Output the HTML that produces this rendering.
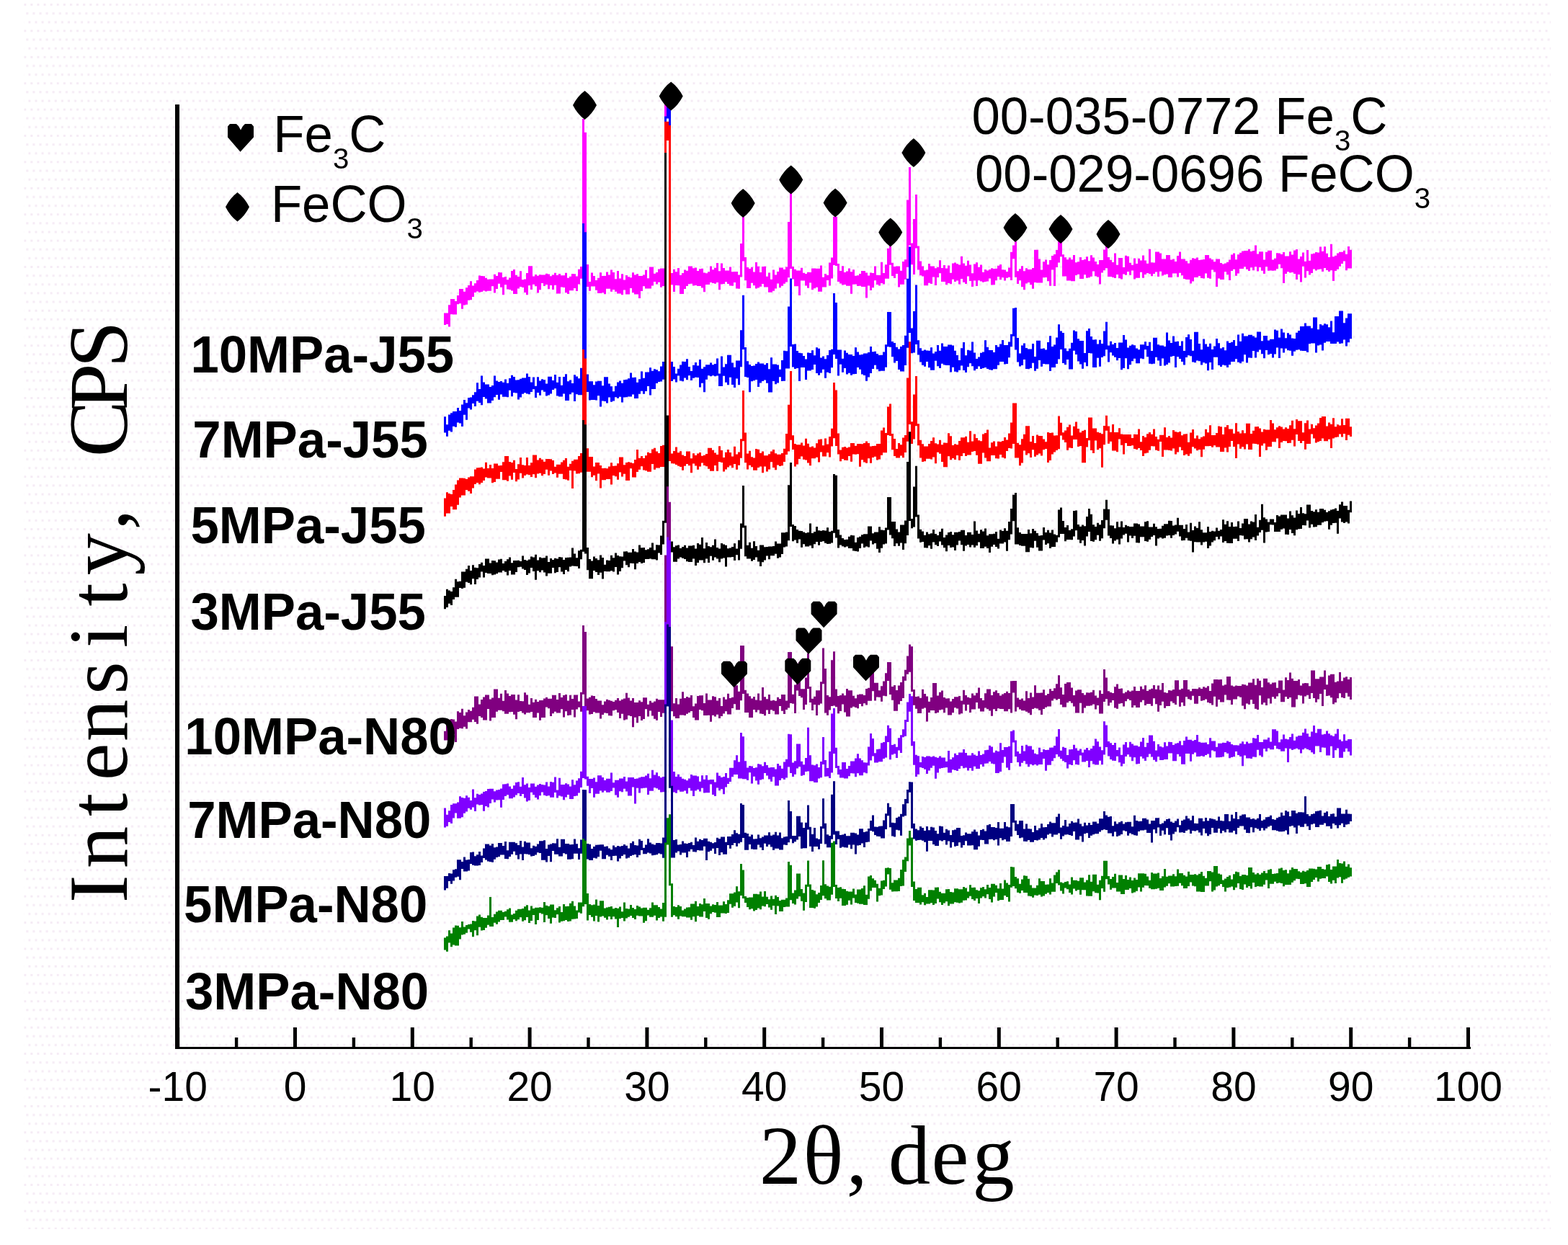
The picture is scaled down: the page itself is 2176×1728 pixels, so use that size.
<!DOCTYPE html>
<html><head><meta charset="utf-8"><title>XRD patterns</title>
<style>
html,body{margin:0;padding:0;background:#fff;overflow:hidden}
svg{display:block}
.tk{font-family:'Liberation Sans', Arial, sans-serif;font-size:57px}
.lb{font-family:'Liberation Sans', Arial, sans-serif;font-weight:bold;font-size:72px}
.lg{font-family:'Liberation Sans', Arial, sans-serif;font-size:72px}
.sb{font-size:41px}
.ti{font-family:'Liberation Serif', 'Times New Roman', serif;font-size:117px;white-space:pre}
</style></head><body>
<svg width="2176" height="1728" viewBox="0 0 2176 1728">
<rect width="2176" height="1728" fill="#fff"/>
<defs><pattern id="dt" x="33.28" y="4.98" width="9.1004" height="36.402" patternUnits="userSpaceOnUse">
<rect x="0" y="0" width="3.03" height="3.03" fill="#f5ebf5"/><rect x="3.0335" y="12.134" width="3.03" height="3.03" fill="#f5ebf5"/><rect x="6.067" y="24.268" width="3.03" height="3.03" fill="#f5ebf5"/>
</pattern></defs>
<rect x="33.28" y="4.98" width="2118.7" height="1701" fill="url(#dt)"/>
<g id="traces">
<path d="M617.5 434.6V450.9M620.5 434.6V450.1M623.5 423.2V453.4M626.5 414.9V436.3M629.5 414.9V436.4M632.5 418.1V436.4M635.5 409.9V422.3M638.5 401.1V421.2M641.5 401.1V428.7M644.5 404.7V423.6M647.5 399.2V422.7M650.5 395.9V416.7M653.5 390.3V416.2M656.5 396.6V412.1M659.5 393.3V406.1M662.5 389.1V404.6M665.5 382.6V405.7M668.5 383.1V405.0M671.5 383.3V403.6M674.5 385.8V404.5M677.5 387.8V403.7M680.5 387.6V403.7M683.5 387.6V397.3M686.5 380.8V406.4M689.5 383.1V400.9M692.5 378.0V393.8M695.5 378.3V398.7M698.5 384.9V409.2M701.5 383.9V395.2M704.5 388.3V401.4M707.5 385.4V402.1M710.5 376.1V403.6M713.5 373.9V408.0M716.5 381.7V408.0M719.5 384.0V400.6M722.5 376.2V397.9M725.5 388.2V398.9M728.5 387.4V406.1M731.5 379.1V409.3M734.5 369.3V396.2M737.5 369.3V402.1M740.5 383.6V394.7M743.5 380.9V397.2M746.5 382.7V406.4M749.5 381.3V402.2M752.5 381.4V393.0M755.5 381.4V397.1M758.5 379.7V395.0M761.5 380.4V401.3M764.5 383.3V395.9M767.5 381.5V402.0M770.5 378.7V395.7M773.5 382.1V407.6M776.5 379.9V407.6M779.5 382.2V398.5M782.5 382.2V399.1M785.5 378.8V406.2M788.5 385.8V408.1M791.5 383.7V403.3M794.5 380.0V403.3M797.5 380.3V399.9M800.5 383.6V403.9M803.5 373.7V394.4M806.5 370.1V386.8M809.5 165.0V375.8M812.5 183.7V369.9M815.5 366.9V398.1M818.5 391.1V403.7M821.5 378.5V397.5M824.5 383.0V397.5M827.5 389.1V402.8M830.5 385.8V407.1M833.5 378.3V406.9M836.5 382.9V406.2M839.5 383.0V408.2M842.5 377.4V400.7M845.5 381.5V400.7M848.5 374.5V404.7M851.5 377.9V401.9M854.5 387.2V404.7M857.5 376.0V407.5M860.5 386.6V407.5M863.5 380.2V409.3M866.5 388.4V402.6M869.5 382.0V408.6M872.5 384.2V408.6M875.5 385.3V400.0M878.5 378.2V406.2M881.5 381.5V408.5M884.5 380.3V408.5M887.5 382.9V414.0M890.5 382.9V404.0M893.5 381.6V397.3M896.5 374.8V400.6M899.5 386.3V400.6M902.5 370.6V400.6M905.5 370.6V396.5M908.5 379.8V391.0M911.5 378.0V394.5M914.5 373.5V391.8M917.5 372.4V398.7M920.5 372.4V396.9M923.5 137.0V387.5M926.5 137.0V161.2M929.5 140.0V385.4M932.5 379.1V395.2M935.5 373.8V405.1M938.5 377.3V396.0M941.5 371.9V396.2M944.5 381.8V408.1M947.5 379.0V408.1M950.5 374.6V401.0M953.5 375.8V397.1M956.5 369.5V394.3M959.5 369.5V393.8M962.5 372.2V396.5M965.5 371.4V396.0M968.5 376.0V397.1M971.5 373.2V397.1M974.5 372.8V399.6M977.5 378.4V405.3M980.5 379.3V395.1M983.5 377.2V395.1M986.5 369.4V392.1M989.5 374.2V393.1M992.5 371.7V393.8M995.5 365.0V392.1M998.5 376.3V402.3M1001.5 365.5V394.5M1004.5 372.0V394.0M1007.5 375.5V391.2M1010.5 375.6V394.1M1013.5 370.5V396.5M1016.5 377.2V396.7M1019.5 376.9V392.0M1022.5 376.9V400.6M1025.5 381.4V400.7M1028.5 338.1V384.4M1031.5 301.0V362.5M1034.5 356.9V389.2M1037.5 371.1V400.1M1040.5 372.9V400.1M1043.5 370.7V392.8M1046.5 377.5V396.2M1049.5 363.9V400.4M1052.5 369.8V399.6M1055.5 378.1V397.8M1058.5 369.9V394.0M1061.5 369.8V398.5M1064.5 383.7V398.5M1067.5 378.5V405.8M1070.5 387.8V405.8M1073.5 374.6V403.7M1076.5 381.4V400.5M1079.5 377.1V393.6M1082.5 371.6V399.3M1085.5 371.6V396.7M1088.5 374.0V393.7M1091.5 370.4V391.6M1094.5 308.0V385.3M1097.5 263.9V373.1M1100.5 370.1V387.5M1103.5 373.8V397.2M1106.5 375.5V397.2M1109.5 375.5V410.1M1112.5 371.8V389.5M1115.5 378.7V389.6M1118.5 380.1V396.6M1121.5 377.7V399.8M1124.5 377.9V392.4M1127.5 372.4V402.2M1130.5 372.4V400.2M1133.5 372.7V398.7M1136.5 372.7V404.7M1139.5 368.6V404.7M1142.5 384.8V398.4M1145.5 379.9V398.4M1148.5 382.0V389.1M1151.5 364.5V396.6M1154.5 357.6V386.4M1157.5 300.7V367.9M1160.5 300.7V368.9M1163.5 365.9V390.9M1166.5 375.9V393.5M1169.5 369.3V395.5M1172.5 378.0V395.0M1175.5 376.5V396.8M1178.5 372.4V396.8M1181.5 377.3V407.8M1184.5 374.3V394.7M1187.5 382.8V394.5M1190.5 382.2V396.9M1193.5 380.1V396.7M1196.5 375.9V397.9M1199.5 376.1V397.9M1202.5 378.5V413.4M1205.5 382.4V396.6M1208.5 378.6V403.0M1211.5 378.9V399.2M1214.5 369.4V389.3M1217.5 381.8V394.9M1220.5 382.1V396.6M1223.5 363.8V393.0M1226.5 379.0V394.5M1229.5 367.2V386.8M1232.5 344.7V386.8M1235.5 340.7V367.7M1238.5 364.7V383.0M1241.5 370.0V385.9M1244.5 369.5V380.1M1247.5 369.5V398.6M1250.5 375.8V394.8M1253.5 363.0V394.8M1256.5 360.2V387.8M1259.5 277.4V370.7M1262.5 232.0V340.5M1265.5 337.5V367.2M1268.5 303.9V381.1M1271.5 270.0V344.4M1274.5 341.4V374.4M1277.5 362.5V382.3M1280.5 369.4V383.4M1283.5 375.3V396.3M1286.5 374.5V396.3M1289.5 365.9V392.7M1292.5 369.6V393.9M1295.5 369.6V384.5M1298.5 372.3V396.1M1301.5 370.7V385.1M1304.5 361.2V379.3M1307.5 371.9V391.0M1310.5 368.1V391.0M1313.5 372.4V395.2M1316.5 368.5V393.1M1319.5 378.7V394.2M1322.5 365.4V387.8M1325.5 364.6V390.9M1328.5 366.2V389.5M1331.5 367.4V394.4M1334.5 355.7V387.1M1337.5 365.5V391.7M1340.5 368.8V393.9M1343.5 361.7V383.4M1346.5 367.4V389.9M1349.5 379.2V398.0M1352.5 366.5V389.5M1355.5 364.2V396.9M1358.5 370.8V389.3M1361.5 367.6V390.4M1364.5 377.8V391.7M1367.5 374.1V390.9M1370.5 375.5V390.5M1373.5 374.1V386.6M1376.5 372.3V395.5M1379.5 373.1V395.2M1382.5 372.7V389.3M1385.5 368.7V383.9M1388.5 367.0V388.2M1391.5 374.3V385.2M1394.5 374.6V389.5M1397.5 377.1V385.8M1400.5 371.4V384.7M1403.5 349.8V389.0M1406.5 340.4V359.2M1409.5 335.0V384.8M1412.5 376.3V394.0M1415.5 373.3V389.2M1418.5 369.2V398.2M1421.5 376.2V402.3M1424.5 372.2V393.4M1427.5 373.9V391.9M1430.5 373.9V395.2M1433.5 372.0V400.8M1436.5 346.7V391.9M1439.5 346.7V392.6M1442.5 359.5V392.6M1445.5 374.6V392.6M1448.5 363.2V385.2M1451.5 360.5V385.0M1454.5 367.2V390.2M1457.5 361.0V396.8M1460.5 355.0V374.5M1463.5 352.9V397.0M1466.5 346.9V370.9M1469.5 334.5V364.6M1472.5 334.5V356.3M1475.5 353.3V383.6M1478.5 357.3V383.6M1481.5 360.3V389.6M1484.5 357.4V389.6M1487.5 360.3V390.3M1490.5 354.1V390.3M1493.5 364.2V382.1M1496.5 363.3V380.8M1499.5 357.0V387.0M1502.5 361.1V387.0M1505.5 360.0V381.3M1508.5 356.2V385.7M1511.5 362.2V385.3M1514.5 354.2V383.8M1517.5 357.6V376.4M1520.5 363.0V383.2M1523.5 366.9V384.4M1526.5 360.9V394.5M1529.5 360.9V378.4M1532.5 346.6V375.3M1535.5 333.5V372.3M1538.5 357.0V384.0M1541.5 360.7V384.0M1544.5 364.0V385.0M1547.5 351.4V385.9M1550.5 367.7V381.0M1553.5 357.9V386.2M1556.5 357.9V387.5M1559.5 371.0V380.6M1562.5 354.8V381.8M1565.5 355.8V377.0M1568.5 364.7V381.8M1571.5 367.7V375.5M1574.5 358.5V387.5M1577.5 366.0V385.8M1580.5 358.8V385.8M1583.5 361.6V377.7M1586.5 354.5V385.7M1589.5 361.5V380.9M1592.5 365.7V379.1M1595.5 345.7V380.2M1598.5 364.3V383.2M1601.5 364.6V380.0M1604.5 349.4V377.4M1607.5 349.4V384.1M1610.5 351.4V376.8M1613.5 359.6V382.5M1616.5 359.6V381.3M1619.5 354.1V380.4M1622.5 354.1V385.1M1625.5 360.5V385.1M1628.5 359.6V379.5M1631.5 363.1V379.5M1634.5 355.1V384.5M1637.5 349.6V378.7M1640.5 359.4V382.3M1643.5 359.4V387.1M1646.5 362.2V387.9M1649.5 365.4V387.9M1652.5 360.7V393.5M1655.5 358.3V390.5M1658.5 359.0V385.1M1661.5 357.6V385.1M1664.5 360.9V382.9M1667.5 360.4V385.9M1670.5 360.0V386.5M1673.5 354.1V379.4M1676.5 354.1V385.7M1679.5 358.4V386.8M1682.5 360.3V374.5M1685.5 363.3V377.4M1688.5 359.6V397.9M1691.5 359.6V386.6M1694.5 364.9V388.1M1697.5 366.4V388.1M1700.5 365.5V377.2M1703.5 363.7V381.2M1706.5 360.6V389.1M1709.5 353.5V376.1M1712.5 351.4V373.7M1715.5 360.3V382.7M1718.5 353.3V379.4M1721.5 350.8V372.9M1724.5 348.6V372.9M1727.5 347.9V370.2M1730.5 347.9V373.8M1733.5 345.8V375.9M1736.5 349.0V371.3M1739.5 348.1V375.3M1742.5 340.5V370.3M1745.5 352.6V376.5M1748.5 349.3V370.9M1751.5 349.3V375.8M1754.5 360.5V380.1M1757.5 349.8V370.3M1760.5 347.8V375.7M1763.5 347.8V375.6M1766.5 360.4V375.7M1769.5 358.7V375.6M1772.5 351.3V373.3M1775.5 351.6V366.8M1778.5 353.0V372.3M1781.5 350.1V392.9M1784.5 355.5V380.0M1787.5 355.5V377.2M1790.5 349.2V378.5M1793.5 353.5V378.1M1796.5 347.5V380.0M1799.5 346.1V388.0M1802.5 359.5V381.1M1805.5 355.9V391.6M1808.5 350.4V369.7M1811.5 362.7V385.4M1814.5 347.1V376.3M1817.5 361.7V381.4M1820.5 352.4V378.9M1823.5 351.8V373.6M1826.5 349.9V375.6M1829.5 350.6V374.1M1832.5 342.6V373.5M1835.5 348.8V377.1M1838.5 342.2V372.1M1841.5 351.8V375.0M1844.5 356.9V377.1M1847.5 338.8V375.3M1850.5 356.3V389.9M1853.5 354.8V375.9M1856.5 351.5V373.7M1859.5 349.7V369.8M1862.5 349.7V365.9M1865.5 347.8V362.5M1868.5 352.7V375.3M1871.5 342.1V372.6M1874.5 346.8V372.6" stroke="#ff00ff" stroke-width="3" fill="none"/>
<path d="M617.5 578.3V600.4M620.5 589.2V605.7M623.5 575.4V597.7M626.5 573.2V599.5M629.5 570.9V591.8M632.5 570.9V592.7M635.5 566.0V586.4M638.5 569.9V587.5M641.5 561.6V591.9M644.5 555.0V575.7M647.5 559.3V582.7M650.5 552.1V566.5M653.5 551.6V568.5M656.5 548.2V559.9M659.5 544.3V564.1M662.5 531.2V556.8M665.5 540.0V558.9M668.5 521.5V562.3M671.5 530.6V550.9M674.5 533.5V553.6M677.5 533.5V559.4M680.5 537.0V559.4M683.5 534.9V556.1M686.5 521.6V551.2M689.5 528.4V548.0M692.5 530.1V554.7M695.5 529.1V547.5M698.5 530.7V550.8M701.5 526.6V550.8M704.5 531.7V551.3M707.5 525.0V541.8M710.5 520.7V550.2M713.5 522.9V545.1M716.5 527.4V545.6M719.5 527.2V554.6M722.5 525.8V551.5M725.5 524.6V546.7M728.5 524.4V545.2M731.5 518.6V546.4M734.5 523.1V547.2M737.5 530.5V543.9M740.5 523.6V540.2M743.5 535.8V552.1M746.5 523.3V544.9M749.5 528.6V548.8M752.5 526.3V541.5M755.5 527.3V543.7M758.5 532.4V549.5M761.5 522.7V548.5M764.5 522.7V546.5M767.5 527.9V541.1M770.5 519.9V539.3M773.5 530.7V549.6M776.5 522.9V550.5M779.5 534.7V550.5M782.5 523.1V546.6M785.5 519.3V555.9M788.5 529.3V555.9M791.5 527.4V547.3M794.5 531.9V544.7M797.5 520.3V557.0M800.5 522.6V547.3M803.5 525.2V548.2M806.5 510.8V548.2M809.5 310.0V521.4M812.5 322.3V528.1M815.5 519.5V544.1M818.5 529.3V555.6M821.5 529.2V555.0M824.5 534.3V555.0M827.5 529.5V555.4M830.5 528.8V549.3M833.5 528.8V564.5M836.5 535.3V556.4M839.5 523.2V556.9M842.5 523.2V559.5M845.5 532.6V551.4M848.5 536.3V557.7M851.5 543.3V556.5M854.5 535.7V551.3M857.5 530.6V552.8M860.5 528.5V550.7M863.5 531.8V558.5M866.5 527.3V551.4M869.5 526.8V551.2M872.5 525.2V550.4M875.5 517.5V550.4M878.5 524.1V547.4M881.5 523.7V553.1M884.5 530.8V553.1M887.5 526.3V546.7M890.5 515.5V542.7M893.5 524.8V546.7M896.5 516.4V543.0M899.5 516.4V536.1M902.5 510.2V548.5M905.5 514.7V540.1M908.5 512.2V540.1M911.5 513.3V532.0M914.5 515.2V530.1M917.5 508.6V529.5M920.5 502.1V526.8M923.5 161.5V518.1M926.5 137.0V164.5M929.5 140.1V513.2M932.5 502.1V529.0M935.5 509.1V526.5M938.5 518.6V530.6M941.5 511.8V521.6M944.5 506.4V528.5M947.5 501.7V529.3M950.5 502.0V524.5M953.5 498.3V527.3M956.5 509.1V521.3M959.5 514.9V528.1M962.5 506.7V524.7M965.5 503.1V523.7M968.5 507.6V524.0M971.5 498.9V537.6M974.5 511.8V531.7M977.5 509.2V544.2M980.5 506.2V526.7M983.5 506.2V521.2M986.5 503.4V522.3M989.5 506.3V521.2M992.5 505.1V522.2M995.5 497.5V521.4M998.5 518.4V535.9M1001.5 494.5V535.9M1004.5 509.6V521.8M1007.5 505.2V530.8M1010.5 492.7V534.3M1013.5 492.7V523.7M1016.5 503.5V534.1M1019.5 509.8V538.0M1022.5 500.4V525.6M1025.5 500.4V534.2M1028.5 458.2V509.3M1031.5 409.8V484.9M1034.5 481.9V523.1M1037.5 501.3V523.9M1040.5 506.1V544.2M1043.5 508.1V529.2M1046.5 507.6V528.3M1049.5 504.9V527.0M1052.5 502.6V537.1M1055.5 504.5V531.6M1058.5 504.5V529.0M1061.5 506.2V527.4M1064.5 504.1V531.8M1067.5 512.3V544.4M1070.5 496.2V544.4M1073.5 505.6V529.1M1076.5 505.6V533.2M1079.5 506.5V531.6M1082.5 512.7V523.3M1085.5 499.9V529.1M1088.5 486.7V528.7M1091.5 487.2V511.4M1094.5 425.4V511.4M1097.5 386.5V481.0M1100.5 478.0V509.4M1103.5 477.4V512.0M1106.5 487.1V511.0M1109.5 489.7V529.0M1112.5 490.3V509.9M1115.5 494.1V509.9M1118.5 498.5V527.0M1121.5 489.5V514.4M1124.5 489.9V514.4M1127.5 486.2V513.0M1130.5 493.3V506.0M1133.5 482.2V518.0M1136.5 483.7V520.8M1139.5 496.4V517.4M1142.5 494.5V512.7M1145.5 498.3V524.7M1148.5 493.1V516.7M1151.5 486.1V517.9M1154.5 484.8V510.2M1157.5 407.0V491.9M1160.5 419.9V498.1M1163.5 485.4V521.6M1166.5 485.4V505.7M1169.5 497.8V516.7M1172.5 486.6V511.0M1175.5 489.7V519.4M1178.5 491.9V517.8M1181.5 491.9V520.7M1184.5 494.1V519.2M1187.5 482.3V519.1M1190.5 488.4V509.9M1193.5 492.4V512.8M1196.5 491.9V519.5M1199.5 490.5V521.0M1202.5 490.5V528.8M1205.5 489.0V523.4M1208.5 480.9V518.0M1211.5 488.2V512.0M1214.5 487.8V506.8M1217.5 491.0V512.4M1220.5 493.1V515.3M1223.5 492.7V514.8M1226.5 488.5V514.8M1229.5 478.2V509.7M1232.5 433.0V481.2M1235.5 433.0V481.8M1238.5 474.0V495.3M1241.5 476.0V503.5M1244.5 481.7V501.0M1247.5 484.6V513.1M1250.5 481.0V515.5M1253.5 479.1V515.5M1256.5 465.8V507.0M1259.5 386.8V482.8M1262.5 342.4V462.1M1265.5 455.6V490.2M1268.5 432.1V489.6M1271.5 395.4V477.9M1274.5 472.2V492.4M1277.5 483.2V502.5M1280.5 486.7V506.8M1283.5 485.5V508.7M1286.5 486.6V501.9M1289.5 486.8V510.3M1292.5 482.2V513.8M1295.5 490.4V513.8M1298.5 487.9V500.8M1301.5 478.9V508.3M1304.5 486.7V511.1M1307.5 476.6V504.8M1310.5 481.1V506.5M1313.5 481.1V506.9M1316.5 478.5V506.9M1319.5 478.5V516.5M1322.5 479.4V509.7M1325.5 486.8V515.7M1328.5 492.9V516.4M1331.5 500.1V513.7M1334.5 483.2V507.5M1337.5 475.1V513.9M1340.5 493.3V517.0M1343.5 485.8V509.2M1346.5 486.6V504.3M1349.5 474.4V508.2M1352.5 489.5V514.2M1355.5 497.9V512.0M1358.5 495.6V508.5M1361.5 489.7V512.0M1364.5 488.4V510.9M1367.5 472.2V510.0M1370.5 481.8V512.1M1373.5 485.9V513.2M1376.5 485.9V513.7M1379.5 489.1V512.2M1382.5 478.9V512.2M1385.5 481.5V506.8M1388.5 477.6V502.0M1391.5 472.1V502.0M1394.5 479.1V505.6M1397.5 479.1V505.1M1400.5 474.4V496.2M1403.5 463.7V481.2M1406.5 427.8V466.7M1409.5 427.0V485.5M1412.5 469.0V502.5M1415.5 490.5V508.5M1418.5 479.5V507.0M1421.5 476.5V499.1M1424.5 483.1V512.0M1427.5 484.5V512.2M1430.5 484.5V511.1M1433.5 476.9V503.8M1436.5 495.0V514.7M1439.5 472.7V511.8M1442.5 472.7V500.0M1445.5 484.1V508.7M1448.5 483.4V504.9M1451.5 485.4V505.4M1454.5 475.0V505.4M1457.5 466.2V514.9M1460.5 480.9V510.1M1463.5 478.5V510.1M1466.5 468.4V505.1M1469.5 450.3V498.4M1472.5 459.5V485.1M1475.5 461.9V504.0M1478.5 483.4V506.3M1481.5 487.2V499.0M1484.5 483.7V512.6M1487.5 475.7V512.6M1490.5 458.5V486.8M1493.5 460.0V492.0M1496.5 470.2V501.5M1499.5 473.0V505.5M1502.5 473.0V511.7M1505.5 490.0V502.9M1508.5 459.3V508.3M1511.5 456.0V490.0M1514.5 467.1V490.6M1517.5 471.6V509.9M1520.5 471.3V509.9M1523.5 477.5V496.8M1526.5 471.8V508.8M1529.5 477.0V496.1M1532.5 459.4V494.2M1535.5 446.8V485.3M1538.5 479.5V502.4M1541.5 473.8V489.2M1544.5 478.1V493.4M1547.5 476.0V495.8M1550.5 482.9V500.3M1553.5 475.4V497.0M1556.5 475.4V513.2M1559.5 464.9V511.1M1562.5 471.6V497.2M1565.5 482.6V512.2M1568.5 479.7V506.2M1571.5 478.2V501.2M1574.5 479.3V497.7M1577.5 483.6V504.2M1580.5 485.2V504.2M1583.5 478.3V497.5M1586.5 478.3V498.3M1589.5 474.2V485.2M1592.5 479.9V495.3M1595.5 474.8V504.7M1598.5 486.9V505.2M1601.5 468.8V504.8M1604.5 468.8V495.8M1607.5 478.3V500.4M1610.5 479.4V507.7M1613.5 479.4V497.6M1616.5 480.9V507.4M1619.5 461.5V506.1M1622.5 472.4V503.4M1625.5 475.9V494.9M1628.5 466.4V493.9M1631.5 474.2V510.1M1634.5 473.7V495.2M1637.5 480.1V498.1M1640.5 473.5V502.1M1643.5 487.0V506.4M1646.5 468.1V496.1M1649.5 464.3V493.2M1652.5 471.1V494.2M1655.5 486.7V502.4M1658.5 460.7V503.2M1661.5 460.7V500.4M1664.5 477.0V501.3M1667.5 485.3V506.5M1670.5 470.4V503.2M1673.5 477.5V504.6M1676.5 481.3V514.2M1679.5 476.8V502.9M1682.5 485.0V513.1M1685.5 480.4V495.8M1688.5 469.9V495.8M1691.5 476.3V507.0M1694.5 483.4V508.9M1697.5 481.9V506.4M1700.5 486.3V507.2M1703.5 473.4V510.1M1706.5 475.9V506.3M1709.5 474.7V502.0M1712.5 471.9V502.0M1715.5 480.0V498.2M1718.5 464.4V502.7M1721.5 473.8V504.3M1724.5 462.8V501.7M1727.5 466.6V492.2M1730.5 466.6V503.6M1733.5 464.7V496.5M1736.5 464.7V496.8M1739.5 466.4V487.1M1742.5 468.5V496.5M1745.5 460.5V488.5M1748.5 460.5V485.4M1751.5 473.2V491.2M1754.5 466.0V497.3M1757.5 466.0V486.1M1760.5 472.4V492.3M1763.5 470.8V490.9M1766.5 470.8V496.6M1769.5 457.6V491.4M1772.5 458.7V482.5M1775.5 468.5V497.1M1778.5 456.6V483.5M1781.5 461.6V489.5M1784.5 469.2V483.7M1787.5 462.2V486.3M1790.5 464.5V486.7M1793.5 469.4V493.8M1796.5 470.0V487.7M1799.5 461.7V485.7M1802.5 458.9V485.2M1805.5 453.0V486.7M1808.5 453.0V486.9M1811.5 448.6V486.9M1814.5 452.4V489.0M1817.5 452.4V477.3M1820.5 455.6V476.6M1823.5 440.6V476.6M1826.5 440.6V489.5M1829.5 457.3V479.6M1832.5 450.1V478.6M1835.5 451.5V486.5M1838.5 449.3V475.8M1841.5 450.3V473.9M1844.5 454.3V474.0M1847.5 445.5V477.0M1850.5 461.2V477.1M1853.5 439.0V477.1M1856.5 439.0V474.6M1859.5 431.6V476.9M1862.5 431.6V476.6M1865.5 448.3V471.5M1868.5 441.5V480.5M1871.5 435.2V475.2M1874.5 435.2V470.3" stroke="#0000ff" stroke-width="3" fill="none"/>
<path d="M617.5 691.4V716.7M620.5 683.3V712.6M623.5 685.1V712.6M626.5 685.9V703.1M629.5 680.1V707.2M632.5 672.6V707.2M635.5 666.6V700.7M638.5 663.5V690.5M641.5 663.5V687.6M644.5 663.7V687.6M647.5 665.0V680.1M650.5 662.6V681.8M653.5 661.2V685.0M656.5 661.2V677.4M659.5 651.4V672.1M662.5 649.3V670.1M665.5 649.1V672.2M668.5 648.4V670.1M671.5 650.6V667.1M674.5 641.7V662.5M677.5 649.9V663.4M680.5 645.1V663.4M683.5 650.0V670.3M686.5 643.5V668.9M689.5 643.5V664.7M692.5 646.2V664.7M695.5 646.1V655.1M698.5 641.3V666.3M701.5 633.1V666.3M704.5 633.1V667.7M707.5 641.1V660.6M710.5 641.9V665.8M713.5 638.8V656.1M716.5 651.0V668.3M719.5 644.3V665.6M722.5 634.9V656.7M725.5 645.3V663.4M728.5 646.1V660.0M731.5 635.1V658.4M734.5 645.9V659.2M737.5 642.3V661.9M740.5 631.5V658.3M743.5 631.5V663.3M746.5 638.5V657.4M749.5 635.8V656.7M752.5 637.7V660.2M755.5 640.7V657.9M758.5 636.9V651.8M761.5 636.9V659.7M764.5 637.3V653.5M767.5 639.1V658.0M770.5 647.7V656.6M773.5 644.8V662.7M776.5 644.8V657.8M779.5 641.6V657.8M782.5 638.7V665.1M785.5 636.1V665.6M788.5 647.7V666.7M791.5 643.8V653.1M794.5 639.7V677.9M797.5 637.7V653.4M800.5 637.7V657.6M803.5 633.0V657.2M806.5 629.1V655.7M809.5 485.0V632.7M812.5 497.4V630.1M815.5 622.2V654.8M818.5 633.9V654.8M821.5 633.9V662.3M824.5 647.6V659.8M827.5 642.1V667.2M830.5 642.1V657.5M833.5 646.0V677.6M836.5 650.0V666.2M839.5 649.8V666.2M842.5 650.3V665.1M845.5 647.5V665.1M848.5 642.2V672.6M851.5 646.7V659.9M854.5 646.6V661.3M857.5 643.2V665.8M860.5 634.4V655.5M863.5 634.4V661.4M866.5 645.3V657.8M869.5 642.0V666.9M872.5 641.2V666.9M875.5 642.1V650.3M878.5 643.1V662.4M881.5 638.1V662.4M884.5 624.1V654.9M887.5 635.8V651.7M890.5 633.0V647.3M893.5 636.1V652.5M896.5 632.3V653.2M899.5 627.7V654.7M902.5 628.9V654.7M905.5 623.6V643.9M908.5 621.7V651.8M911.5 626.4V649.6M914.5 628.9V649.6M917.5 618.9V648.1M920.5 617.8V648.1M923.5 168.7V633.2M926.5 168.7V195.0M929.5 173.9V640.1M932.5 629.4V643.2M935.5 625.9V643.4M938.5 620.6V645.1M941.5 628.2V646.8M944.5 626.2V648.1M947.5 631.4V652.8M950.5 633.0V646.8M953.5 626.5V644.0M956.5 626.5V646.2M959.5 636.3V656.3M962.5 629.3V643.6M965.5 632.1V646.4M968.5 629.5V651.7M971.5 627.9V647.4M974.5 632.7V642.6M977.5 631.8V646.0M980.5 630.1V647.3M983.5 621.7V650.7M986.5 621.7V653.8M989.5 624.8V653.8M992.5 628.5V646.1M995.5 631.0V653.8M998.5 619.3V641.1M1001.5 625.1V642.1M1004.5 635.1V654.5M1007.5 627.7V651.4M1010.5 624.1V648.5M1013.5 627.9V646.3M1016.5 633.6V649.3M1019.5 619.8V644.1M1022.5 630.4V651.8M1025.5 627.4V645.7M1028.5 609.3V635.7M1031.5 541.9V612.3M1034.5 600.4V642.3M1037.5 629.5V651.4M1040.5 625.8V645.8M1043.5 634.2V648.3M1046.5 635.6V652.7M1049.5 623.0V652.7M1052.5 623.8V649.0M1055.5 628.8V647.6M1058.5 626.4V656.2M1061.5 632.3V647.5M1064.5 632.3V654.6M1067.5 630.3V651.6M1070.5 626.4V641.2M1073.5 624.0V649.1M1076.5 629.3V652.3M1079.5 630.8V645.5M1082.5 630.7V646.9M1085.5 628.9V646.2M1088.5 622.8V641.1M1091.5 602.1V630.9M1094.5 561.7V626.4M1097.5 515.0V610.7M1100.5 604.3V624.0M1103.5 616.0V647.5M1106.5 617.2V644.6M1109.5 617.2V636.9M1112.5 614.6V633.6M1115.5 618.5V637.8M1118.5 608.7V638.5M1121.5 615.8V642.4M1124.5 620.4V646.3M1127.5 619.5V636.3M1130.5 621.6V636.3M1133.5 615.2V634.7M1136.5 609.9V641.4M1139.5 609.6V627.4M1142.5 618.3V633.5M1145.5 608.5V633.5M1148.5 616.4V628.2M1151.5 605.9V634.4M1154.5 594.8V619.5M1157.5 531.0V608.3M1160.5 541.5V619.1M1163.5 601.4V630.5M1166.5 624.5V640.2M1169.5 620.8V637.1M1172.5 620.0V638.7M1175.5 621.4V639.0M1178.5 620.4V633.0M1181.5 615.0V640.8M1184.5 615.0V630.6M1187.5 618.7V630.8M1190.5 616.1V630.3M1193.5 616.1V647.8M1196.5 616.3V638.2M1199.5 614.9V641.5M1202.5 612.4V642.8M1205.5 615.1V636.2M1208.5 619.4V642.8M1211.5 619.0V634.9M1214.5 618.7V633.7M1217.5 615.9V638.4M1220.5 615.9V637.6M1223.5 597.5V631.7M1226.5 593.6V628.2M1229.5 600.9V628.2M1232.5 564.4V603.9M1235.5 560.5V604.9M1238.5 601.9V624.3M1241.5 609.0V633.1M1244.5 623.0V635.6M1247.5 615.1V635.6M1250.5 617.3V632.6M1253.5 607.4V635.2M1256.5 603.9V628.1M1259.5 524.6V612.8M1262.5 474.2V588.9M1265.5 585.2V615.9M1268.5 547.4V609.6M1271.5 522.1V591.3M1274.5 588.3V618.3M1277.5 610.7V635.6M1280.5 616.3V641.1M1283.5 619.6V640.2M1286.5 619.5V636.8M1289.5 615.9V636.8M1292.5 612.1V637.5M1295.5 607.2V634.6M1298.5 615.2V643.3M1301.5 616.6V627.7M1304.5 610.8V629.8M1307.5 617.3V641.0M1310.5 614.6V648.3M1313.5 614.7V648.3M1316.5 601.3V633.2M1319.5 605.2V638.3M1322.5 617.9V636.0M1325.5 616.3V638.1M1328.5 617.3V632.0M1331.5 612.0V638.8M1334.5 607.3V633.0M1337.5 607.3V628.9M1340.5 605.7V632.9M1343.5 613.8V631.5M1346.5 598.3V631.5M1349.5 612.6V627.0M1352.5 602.4V626.0M1355.5 607.9V631.8M1358.5 611.2V643.8M1361.5 612.2V643.8M1364.5 602.6V628.5M1367.5 600.9V635.6M1370.5 596.4V640.3M1373.5 621.4V640.3M1376.5 614.3V631.9M1379.5 612.5V632.0M1382.5 619.4V636.2M1385.5 612.7V636.4M1388.5 613.3V630.9M1391.5 612.1V634.9M1394.5 607.1V636.2M1397.5 610.5V626.1M1400.5 601.5V621.9M1403.5 586.4V622.6M1406.5 559.4V615.9M1409.5 559.4V635.4M1412.5 614.7V635.4M1415.5 617.3V646.2M1418.5 609.3V642.4M1421.5 602.7V625.6M1424.5 591.2V631.4M1427.5 591.2V629.2M1430.5 613.1V634.9M1433.5 604.9V624.3M1436.5 615.0V633.7M1439.5 603.6V631.6M1442.5 604.9V629.6M1445.5 604.9V632.4M1448.5 609.4V624.2M1451.5 613.2V623.1M1454.5 600.1V642.0M1457.5 601.0V639.1M1460.5 600.5V630.6M1463.5 604.4V627.4M1466.5 604.2V625.0M1469.5 577.5V623.3M1472.5 586.8V604.5M1475.5 600.2V610.6M1478.5 597.5V614.0M1481.5 592.7V624.8M1484.5 589.5V621.4M1487.5 604.5V622.1M1490.5 591.7V610.1M1493.5 585.6V610.1M1496.5 595.0V620.1M1499.5 600.2V619.1M1502.5 598.1V642.2M1505.5 596.7V642.2M1508.5 608.0V620.6M1511.5 579.4V611.2M1514.5 579.4V625.0M1517.5 594.5V629.0M1520.5 594.5V611.5M1523.5 599.8V624.2M1526.5 600.8V622.2M1529.5 602.2V648.8M1532.5 590.9V617.3M1535.5 576.8V597.7M1538.5 591.4V615.8M1541.5 599.7V612.7M1544.5 588.9V625.5M1547.5 600.1V625.5M1550.5 600.1V627.3M1553.5 594.3V609.6M1556.5 602.5V617.8M1559.5 603.1V630.5M1562.5 603.1V615.1M1565.5 603.0V618.9M1568.5 602.9V618.9M1571.5 608.0V618.3M1574.5 602.7V623.1M1577.5 602.9V624.0M1580.5 595.6V622.0M1583.5 613.2V625.0M1586.5 605.0V633.1M1589.5 606.9V629.2M1592.5 602.3V628.4M1595.5 599.9V624.8M1598.5 602.8V619.3M1601.5 595.6V619.4M1604.5 606.1V624.8M1607.5 609.7V625.8M1610.5 603.8V613.0M1613.5 603.8V634.1M1616.5 593.3V624.4M1619.5 607.0V624.4M1622.5 605.1V625.0M1625.5 607.6V625.4M1628.5 597.0V622.4M1631.5 599.3V630.4M1634.5 600.0V627.5M1637.5 598.9V620.4M1640.5 604.2V624.9M1643.5 602.5V631.9M1646.5 602.3V630.4M1649.5 613.8V632.8M1652.5 600.6V629.4M1655.5 596.1V620.3M1658.5 608.4V622.4M1661.5 604.5V625.2M1664.5 609.2V623.9M1667.5 606.8V634.3M1670.5 605.4V623.8M1673.5 595.7V619.2M1676.5 600.3V619.2M1679.5 590.3V619.1M1682.5 604.0V620.7M1685.5 604.0V618.3M1688.5 600.9V620.5M1691.5 591.4V620.5M1694.5 592.2V627.1M1697.5 602.9V627.1M1700.5 592.8V621.5M1703.5 590.1V627.6M1706.5 595.5V620.1M1709.5 595.4V612.0M1712.5 601.8V620.0M1715.5 587.3V636.0M1718.5 599.0V616.6M1721.5 601.6V622.8M1724.5 597.3V620.2M1727.5 601.3V623.5M1730.5 587.7V616.4M1733.5 587.7V624.1M1736.5 602.0V624.1M1739.5 597.8V615.8M1742.5 592.2V616.0M1745.5 592.0V616.8M1748.5 594.6V634.0M1751.5 599.4V618.6M1754.5 595.7V615.5M1757.5 596.4V624.8M1760.5 596.4V619.9M1763.5 582.9V619.9M1766.5 587.5V613.2M1769.5 596.3V613.3M1772.5 593.3V608.5M1775.5 591.2V622.1M1778.5 592.5V613.9M1781.5 595.6V611.9M1784.5 593.3V612.3M1787.5 594.9V615.1M1790.5 590.2V614.7M1793.5 583.7V610.7M1796.5 595.2V619.6M1799.5 582.1V602.9M1802.5 584.2V611.9M1805.5 584.2V615.0M1808.5 600.2V612.0M1811.5 587.3V623.8M1814.5 583.6V615.9M1817.5 595.5V615.9M1820.5 588.7V602.6M1823.5 594.3V608.4M1826.5 590.6V614.4M1829.5 587.4V613.2M1832.5 580.1V612.0M1835.5 577.9V608.4M1838.5 577.9V612.2M1841.5 591.6V612.2M1844.5 586.6V609.7M1847.5 588.8V622.1M1850.5 580.3V608.4M1853.5 592.3V607.0M1856.5 589.2V606.6M1859.5 590.4V602.5M1862.5 581.2V606.5M1865.5 589.9V602.1M1868.5 580.7V610.9M1871.5 580.7V603.8M1874.5 592.2V605.9" stroke="#ff0000" stroke-width="3" fill="none"/>
<path d="M617.5 827.0V845.3M620.5 817.8V842.9M623.5 819.6V837.8M626.5 821.0V840.1M629.5 815.2V831.9M632.5 803.7V828.7M635.5 807.2V828.7M638.5 806.8V815.9M641.5 793.5V817.1M644.5 793.5V815.8M647.5 789.8V807.7M650.5 785.1V809.0M653.5 792.0V811.2M656.5 784.3V803.3M659.5 787.7V810.9M662.5 788.3V804.1M665.5 782.9V801.6M668.5 780.7V793.6M671.5 785.1V801.4M674.5 775.4V795.1M677.5 775.4V796.0M680.5 781.5V796.0M683.5 778.1V798.3M686.5 778.2V797.6M689.5 780.6V796.2M692.5 776.4V794.4M695.5 775.8V794.4M698.5 782.0V792.0M701.5 779.1V793.7M704.5 776.2V798.6M707.5 773.5V792.1M710.5 781.3V797.6M713.5 778.1V797.6M716.5 778.1V793.9M719.5 777.7V787.2M722.5 778.9V786.7M725.5 771.4V789.6M728.5 777.1V791.0M731.5 777.9V797.9M734.5 776.6V795.4M737.5 772.5V788.0M740.5 773.4V793.0M743.5 769.8V804.8M746.5 777.5V792.3M749.5 773.6V794.2M752.5 774.4V791.4M755.5 774.2V794.6M758.5 771.5V799.6M761.5 780.1V795.8M764.5 775.0V795.8M767.5 776.9V787.9M770.5 774.8V795.3M773.5 775.5V794.1M776.5 773.1V787.3M779.5 773.5V793.4M782.5 777.1V796.9M785.5 774.0V791.0M788.5 773.7V793.3M791.5 773.4V786.6M794.5 760.5V785.5M797.5 768.5V785.8M800.5 774.3V786.0M803.5 764.3V789.1M806.5 762.7V776.2M809.5 583.0V765.7M812.5 589.3V768.5M815.5 760.1V791.2M818.5 776.1V803.3M821.5 778.4V803.3M824.5 772.5V792.0M827.5 775.1V793.9M830.5 777.2V798.0M833.5 770.4V794.8M836.5 773.9V803.6M839.5 783.7V793.0M842.5 777.4V793.3M845.5 778.0V793.3M848.5 770.7V792.3M851.5 774.2V793.6M854.5 767.5V787.0M857.5 770.9V797.4M860.5 772.2V792.9M863.5 772.5V788.3M866.5 765.5V778.5M869.5 765.3V784.3M872.5 766.7V787.3M875.5 766.7V781.7M878.5 762.1V781.9M881.5 765.6V790.2M884.5 766.5V782.0M887.5 756.5V780.1M890.5 760.2V782.0M893.5 760.0V781.0M896.5 763.3V776.1M899.5 762.3V775.9M902.5 759.9V775.4M905.5 753.5V776.3M908.5 763.4V776.3M911.5 756.2V777.6M914.5 756.4V767.6M917.5 743.6V769.9M920.5 722.8V755.6M923.5 212.0V725.8M926.5 576.6V755.1M929.5 748.6V766.5M932.5 751.4V766.4M935.5 759.3V779.8M938.5 757.3V779.8M941.5 756.5V775.6M944.5 761.0V773.6M947.5 759.0V774.8M950.5 756.8V776.1M953.5 760.4V779.2M956.5 757.5V780.0M959.5 757.5V780.1M962.5 756.8V775.4M965.5 761.4V785.1M968.5 754.1V781.1M971.5 755.7V777.4M974.5 746.0V777.4M977.5 761.3V781.3M980.5 753.1V775.4M983.5 758.0V780.9M986.5 759.3V771.7M989.5 756.7V777.8M992.5 748.6V773.6M995.5 760.1V775.4M998.5 761.4V780.3M1001.5 754.0V775.6M1004.5 755.4V774.6M1007.5 756.8V786.6M1010.5 761.3V773.5M1013.5 760.6V773.5M1016.5 758.9V773.0M1019.5 754.2V778.1M1022.5 761.4V770.2M1025.5 749.8V777.4M1028.5 726.4V761.7M1031.5 674.0V732.4M1034.5 729.4V772.3M1037.5 756.7V775.5M1040.5 752.7V775.5M1043.5 760.8V778.8M1046.5 751.2V776.9M1049.5 758.1V773.4M1052.5 763.7V779.5M1055.5 756.4V786.1M1058.5 756.4V780.2M1061.5 759.2V777.4M1064.5 758.9V771.5M1067.5 758.6V776.2M1070.5 758.6V771.2M1073.5 758.0V771.2M1076.5 751.6V768.8M1079.5 754.5V774.8M1082.5 754.5V773.4M1085.5 739.2V769.1M1088.5 739.2V759.4M1091.5 738.6V758.5M1094.5 673.3V750.3M1097.5 642.0V731.1M1100.5 728.1V751.2M1103.5 730.1V749.6M1106.5 735.1V753.8M1109.5 736.7V748.6M1112.5 736.9V759.7M1115.5 738.6V755.2M1118.5 739.8V758.4M1121.5 739.0V758.4M1124.5 726.6V757.3M1127.5 739.9V760.8M1130.5 737.9V755.2M1133.5 731.0V751.9M1136.5 736.2V756.7M1139.5 736.8V752.0M1142.5 736.1V751.3M1145.5 736.6V753.7M1148.5 732.2V755.1M1151.5 738.0V754.8M1154.5 736.8V753.5M1157.5 658.0V739.8M1160.5 659.8V746.6M1163.5 734.9V760.4M1166.5 742.5V756.5M1169.5 747.0V758.3M1172.5 749.0V759.5M1175.5 748.7V758.5M1178.5 744.8V761.0M1181.5 742.7V761.0M1184.5 743.2V764.6M1187.5 752.8V764.9M1190.5 745.9V765.6M1193.5 744.8V761.1M1196.5 742.2V754.4M1199.5 741.3V759.9M1202.5 741.3V758.4M1205.5 730.5V759.5M1208.5 730.5V750.5M1211.5 740.3V755.4M1214.5 738.5V753.9M1217.5 738.5V761.8M1220.5 731.2V766.9M1223.5 735.6V760.7M1226.5 736.1V755.4M1229.5 732.6V754.6M1232.5 689.9V735.6M1235.5 689.9V742.6M1238.5 724.1V747.2M1241.5 724.1V758.1M1244.5 734.6V754.2M1247.5 738.4V757.8M1250.5 728.4V753.5M1253.5 728.4V763.0M1256.5 722.6V754.2M1259.5 640.9V743.1M1262.5 599.3V722.9M1265.5 719.9V733.3M1268.5 675.5V731.6M1271.5 646.8V717.5M1274.5 714.5V747.5M1277.5 734.8V752.8M1280.5 737.5V752.1M1283.5 742.8V760.3M1286.5 738.5V760.4M1289.5 741.2V757.3M1292.5 740.2V761.8M1295.5 735.1V752.4M1298.5 741.1V756.3M1301.5 743.1V758.1M1304.5 738.1V751.6M1307.5 733.8V756.6M1310.5 746.1V760.2M1313.5 742.6V765.3M1316.5 738.9V757.1M1319.5 738.0V760.1M1322.5 742.2V759.6M1325.5 738.8V764.0M1328.5 738.8V756.4M1331.5 738.1V750.4M1334.5 735.7V756.2M1337.5 735.7V764.7M1340.5 743.1V757.6M1343.5 738.8V756.0M1346.5 738.8V759.4M1349.5 742.0V756.6M1352.5 723.4V759.7M1355.5 736.6V757.2M1358.5 740.7V752.4M1361.5 735.2V761.0M1364.5 737.6V761.0M1367.5 733.6V758.8M1370.5 743.2V761.1M1373.5 741.3V766.9M1376.5 741.3V758.8M1379.5 740.7V756.1M1382.5 738.0V759.1M1385.5 747.7V761.4M1388.5 735.5V754.4M1391.5 737.1V754.4M1394.5 733.3V752.4M1397.5 736.7V764.8M1400.5 724.0V749.3M1403.5 706.0V741.6M1406.5 686.8V723.2M1409.5 684.0V755.6M1412.5 732.3V755.6M1415.5 739.1V757.0M1418.5 741.1V757.7M1421.5 741.1V757.7M1424.5 741.1V766.2M1427.5 735.1V766.2M1430.5 740.2V760.1M1433.5 733.9V760.4M1436.5 736.7V750.7M1439.5 739.9V759.7M1442.5 743.6V764.4M1445.5 743.1V764.4M1448.5 732.1V749.5M1451.5 738.9V755.9M1454.5 735.7V754.3M1457.5 739.5V761.0M1460.5 735.6V758.9M1463.5 741.4V758.9M1466.5 742.7V752.4M1469.5 707.5V745.7M1472.5 704.4V741.0M1475.5 722.9V741.0M1478.5 732.1V751.2M1481.5 729.0V749.0M1484.5 736.0V749.0M1487.5 734.3V749.2M1490.5 709.0V744.5M1493.5 708.6V736.2M1496.5 728.1V748.9M1499.5 730.7V753.8M1502.5 728.6V750.1M1505.5 730.3V757.5M1508.5 716.9V744.5M1511.5 706.0V738.1M1514.5 713.8V751.1M1517.5 728.2V751.8M1520.5 731.0V749.2M1523.5 725.8V742.8M1526.5 728.2V750.7M1529.5 721.9V747.3M1532.5 706.4V733.2M1535.5 693.8V721.7M1538.5 706.7V743.5M1541.5 729.2V747.0M1544.5 729.6V754.5M1547.5 733.2V750.5M1550.5 724.3V748.7M1553.5 731.5V755.4M1556.5 723.5V747.5M1559.5 732.1V742.4M1562.5 728.8V740.8M1565.5 730.3V752.5M1568.5 730.9V743.6M1571.5 730.9V747.1M1574.5 726.5V743.8M1577.5 726.5V753.3M1580.5 727.4V753.6M1583.5 730.6V745.2M1586.5 730.6V745.2M1589.5 724.2V750.9M1592.5 723.2V751.7M1595.5 731.5V748.8M1598.5 731.5V745.0M1601.5 726.7V743.1M1604.5 731.2V757.6M1607.5 733.9V747.6M1610.5 733.7V746.1M1613.5 729.8V747.5M1616.5 727.3V746.7M1619.5 727.3V743.6M1622.5 722.7V743.0M1625.5 722.9V746.8M1628.5 729.4V743.1M1631.5 728.5V741.4M1634.5 718.7V737.8M1637.5 728.8V744.5M1640.5 728.8V750.2M1643.5 733.9V750.1M1646.5 727.9V746.8M1649.5 738.6V750.3M1652.5 725.7V750.7M1655.5 735.9V766.4M1658.5 730.5V752.3M1661.5 732.7V752.4M1664.5 724.2V752.4M1667.5 735.3V756.6M1670.5 739.3V752.4M1673.5 739.2V751.7M1676.5 731.1V761.1M1679.5 738.1V757.5M1682.5 736.8V752.6M1685.5 737.4V750.2M1688.5 732.5V744.9M1691.5 736.8V748.4M1694.5 735.1V744.5M1697.5 721.3V752.9M1700.5 727.7V751.0M1703.5 723.3V753.7M1706.5 730.9V754.0M1709.5 724.9V754.0M1712.5 730.9V747.7M1715.5 730.7V747.7M1718.5 723.5V751.1M1721.5 733.0V743.1M1724.5 726.6V743.5M1727.5 719.9V748.4M1730.5 719.9V748.2M1733.5 727.6V752.4M1736.5 723.6V748.2M1739.5 724.6V745.4M1742.5 713.9V750.1M1745.5 731.8V743.5M1748.5 721.7V739.1M1751.5 699.8V735.7M1754.5 718.3V753.4M1757.5 720.4V738.5M1760.5 724.6V737.9M1763.5 720.6V728.2M1766.5 720.6V728.6M1769.5 724.9V737.9M1772.5 715.0V737.9M1775.5 716.6V737.9M1778.5 714.4V734.7M1781.5 714.4V733.6M1784.5 714.5V741.7M1787.5 719.5V742.0M1790.5 709.4V735.0M1793.5 715.3V740.1M1796.5 718.5V743.2M1799.5 708.4V735.3M1802.5 712.9V734.2M1805.5 704.1V734.1M1808.5 712.3V728.9M1811.5 713.3V729.2M1814.5 700.4V722.5M1817.5 700.4V732.4M1820.5 708.9V727.8M1823.5 710.2V731.5M1826.5 707.3V731.3M1829.5 710.8V728.7M1832.5 706.1V728.7M1835.5 706.1V725.3M1838.5 707.8V723.8M1841.5 710.9V723.2M1844.5 709.3V734.7M1847.5 707.5V728.7M1850.5 706.7V726.1M1853.5 705.6V725.8M1856.5 709.0V740.7M1859.5 700.2V719.5M1862.5 696.6V724.6M1865.5 702.1V726.0M1868.5 702.1V724.6M1871.5 707.7V726.5M1874.5 695.6V711.3" stroke="#000000" stroke-width="3" fill="none"/>
<path d="M617.5 1014.7V1027.6M620.5 1005.4V1027.6M623.5 998.7V1025.2M626.5 997.9V1018.7M629.5 998.5V1018.7M632.5 1001.6V1029.9M635.5 987.2V1012.1M638.5 989.1V1010.7M641.5 983.8V1011.3M644.5 993.3V1008.7M647.5 988.4V1011.5M650.5 984.9V1002.3M653.5 986.7V1002.3M656.5 981.7V998.8M659.5 966.6V1001.9M662.5 966.6V1004.8M665.5 977.6V994.1M668.5 971.1V996.1M671.5 967.4V999.4M674.5 964.5V999.5M677.5 964.5V984.0M680.5 970.5V1000.6M683.5 968.5V995.9M686.5 956.5V995.9M689.5 956.5V987.7M692.5 968.8V985.8M695.5 962.7V985.8M698.5 972.8V987.3M701.5 957.9V990.7M704.5 962.6V990.7M707.5 965.9V988.2M710.5 964.1V988.0M713.5 964.1V991.7M716.5 971.6V998.3M719.5 964.3V988.1M722.5 972.9V986.9M725.5 973.2V989.5M728.5 961.2V991.4M731.5 964.4V989.3M734.5 977.7V989.3M737.5 969.0V987.9M740.5 974.8V995.9M743.5 970.7V995.9M746.5 974.1V989.4M749.5 972.1V999.8M752.5 972.1V996.1M755.5 969.5V996.1M758.5 967.7V981.5M761.5 969.8V983.2M764.5 969.8V994.1M767.5 964.7V990.3M770.5 964.7V987.7M773.5 971.0V989.5M776.5 962.0V989.5M779.5 968.1V984.2M782.5 965.1V995.6M785.5 963.9V987.3M788.5 972.5V993.0M791.5 964.7V992.4M794.5 969.9V985.1M797.5 964.5V995.6M800.5 964.5V984.6M803.5 973.5V981.7M806.5 960.7V987.7M809.5 868.0V963.7M812.5 877.1V984.3M815.5 969.6V986.3M818.5 967.7V991.5M821.5 965.6V991.1M824.5 965.9V988.2M827.5 970.0V989.4M830.5 972.4V989.5M833.5 972.6V997.6M836.5 978.2V991.9M839.5 973.5V989.5M842.5 970.8V990.0M845.5 971.8V993.2M848.5 972.8V993.4M851.5 974.0V986.2M854.5 971.8V985.3M857.5 969.1V988.9M860.5 972.6V996.9M863.5 970.8V990.8M866.5 969.6V999.4M869.5 961.7V998.4M872.5 968.6V993.1M875.5 972.6V994.1M878.5 969.1V1009.3M881.5 974.9V995.7M884.5 974.9V1003.3M887.5 972.3V993.9M890.5 974.3V1000.1M893.5 968.3V998.0M896.5 968.3V984.2M899.5 977.8V994.5M902.5 972.8V986.6M905.5 975.3V993.5M908.5 973.5V997.7M911.5 969.7V999.8M914.5 971.2V988.0M917.5 971.2V995.1M920.5 971.3V989.7M923.5 770.5V1000.6M926.5 675.2V773.5M929.5 696.7V900.2M932.5 897.2V987.3M935.5 976.2V994.2M938.5 969.0V997.1M941.5 977.5V997.1M944.5 969.7V992.5M947.5 960.3V992.5M950.5 968.9V992.9M953.5 966.9V990.8M956.5 968.3V988.9M959.5 965.0V987.0M962.5 980.3V996.0M965.5 976.6V999.4M968.5 966.0V999.4M971.5 965.3V984.9M974.5 965.3V986.3M977.5 976.1V993.1M980.5 962.6V992.9M983.5 971.4V992.8M986.5 971.4V1001.7M989.5 966.3V992.7M992.5 967.3V994.5M995.5 972.4V991.8M998.5 969.1V997.0M1001.5 979.9V994.0M1004.5 967.6V990.6M1007.5 970.8V987.2M1010.5 962.8V991.5M1013.5 969.1V991.5M1016.5 967.7V983.0M1019.5 951.7V977.2M1022.5 951.3V985.3M1025.5 959.7V985.3M1028.5 895.9V972.3M1031.5 895.9V963.1M1034.5 957.8V988.9M1037.5 962.4V988.9M1040.5 966.3V996.0M1043.5 969.5V996.0M1046.5 966.9V985.1M1049.5 971.6V988.4M1052.5 962.5V985.4M1055.5 972.2V990.4M1058.5 953.9V991.1M1061.5 967.2V993.2M1064.5 970.3V985.6M1067.5 964.1V990.9M1070.5 972.5V985.3M1073.5 971.7V986.8M1076.5 972.8V991.4M1079.5 967.7V991.4M1082.5 970.1V980.1M1085.5 964.0V986.7M1088.5 964.0V990.9M1091.5 972.6V985.1M1094.5 905.1V982.5M1097.5 905.1V976.1M1100.5 963.7V976.7M1103.5 950.4V990.1M1106.5 920.7V958.6M1109.5 918.8V965.9M1112.5 956.2V968.2M1115.5 956.2V985.1M1118.5 940.4V977.9M1121.5 906.8V956.0M1124.5 953.0V975.1M1127.5 969.7V986.1M1130.5 966.8V978.1M1133.5 958.3V993.0M1136.5 958.3V978.5M1139.5 946.2V976.6M1142.5 899.4V949.2M1145.5 928.1V989.6M1148.5 965.0V992.8M1151.5 967.3V985.5M1154.5 916.2V980.1M1157.5 904.2V979.6M1160.5 956.6V981.2M1163.5 965.9V990.2M1166.5 965.1V987.0M1169.5 962.6V977.5M1172.5 965.3V988.4M1175.5 956.0V994.4M1178.5 958.2V994.4M1181.5 958.2V982.5M1184.5 965.8V980.7M1187.5 969.2V981.9M1190.5 964.2V983.3M1193.5 963.6V977.0M1196.5 963.6V980.2M1199.5 964.9V976.2M1202.5 955.9V978.6M1205.5 954.7V972.7M1208.5 923.3V972.7M1211.5 928.9V959.3M1214.5 947.8V972.4M1217.5 947.8V967.6M1220.5 958.3V967.8M1223.5 952.2V973.7M1226.5 945.5V965.8M1229.5 934.3V966.3M1232.5 918.9V945.0M1235.5 918.9V963.9M1238.5 953.1V971.8M1241.5 951.0V986.7M1244.5 958.1V986.7M1247.5 951.5V977.5M1250.5 946.9V973.0M1253.5 938.7V969.1M1256.5 929.7V944.7M1259.5 910.6V935.7M1262.5 894.6V932.8M1265.5 897.2V960.0M1268.5 957.0V978.7M1271.5 967.0V983.8M1274.5 966.5V989.9M1277.5 968.7V990.0M1280.5 956.8V983.7M1283.5 963.1V982.5M1286.5 966.4V1001.4M1289.5 973.8V989.0M1292.5 967.9V986.1M1295.5 948.0V986.0M1298.5 948.0V989.9M1301.5 965.4V988.9M1304.5 960.8V985.4M1307.5 958.5V984.8M1310.5 967.9V989.2M1313.5 969.5V982.5M1316.5 969.3V992.5M1319.5 973.5V992.5M1322.5 969.9V989.2M1325.5 967.2V982.2M1328.5 967.3V983.5M1331.5 966.1V991.5M1334.5 972.6V990.2M1337.5 957.7V977.8M1340.5 965.1V986.5M1343.5 967.7V978.1M1346.5 968.7V988.9M1349.5 962.4V984.5M1352.5 965.2V984.6M1355.5 961.7V975.0M1358.5 954.4V983.6M1361.5 968.9V987.5M1364.5 971.9V987.5M1367.5 962.2V982.5M1370.5 956.5V984.2M1373.5 956.5V986.6M1376.5 965.1V993.8M1379.5 960.2V984.2M1382.5 958.3V987.0M1385.5 962.0V983.2M1388.5 965.6V983.9M1391.5 963.6V983.9M1394.5 962.1V987.2M1397.5 959.7V987.2M1400.5 962.1V984.2M1403.5 945.2V989.5M1406.5 944.9V961.5M1409.5 944.9V987.4M1412.5 968.6V981.6M1415.5 971.1V984.4M1418.5 969.4V986.2M1421.5 972.4V986.2M1424.5 959.3V987.7M1427.5 969.1V989.4M1430.5 961.6V992.3M1433.5 967.5V984.1M1436.5 951.3V982.7M1439.5 961.8V983.5M1442.5 961.8V985.7M1445.5 961.4V991.9M1448.5 957.2V984.0M1451.5 965.0V981.8M1454.5 963.1V980.6M1457.5 956.3V980.6M1460.5 958.9V972.4M1463.5 955.2V969.8M1466.5 949.3V971.4M1469.5 937.3V970.0M1472.5 954.2V978.1M1475.5 964.1V981.5M1478.5 949.1V981.5M1481.5 947.0V975.2M1484.5 947.0V973.2M1487.5 954.6V975.7M1490.5 964.9V980.5M1493.5 958.6V989.4M1496.5 957.2V989.4M1499.5 957.2V975.7M1502.5 962.0V989.7M1505.5 964.4V982.6M1508.5 961.3V979.7M1511.5 961.4V979.7M1514.5 960.8V979.2M1517.5 957.7V977.6M1520.5 965.5V984.4M1523.5 968.6V979.0M1526.5 958.2V990.6M1529.5 962.9V990.6M1532.5 928.9V973.9M1535.5 940.4V970.2M1538.5 959.3V979.6M1541.5 960.9V975.2M1544.5 961.9V972.1M1547.5 953.2V982.6M1550.5 949.5V983.8M1553.5 956.1V976.8M1556.5 955.4V976.1M1559.5 962.2V980.6M1562.5 960.5V973.3M1565.5 958.2V970.2M1568.5 959.8V972.0M1571.5 958.4V982.0M1574.5 953.0V979.0M1577.5 959.0V982.1M1580.5 959.0V982.0M1583.5 952.7V974.4M1586.5 956.4V971.8M1589.5 951.2V978.9M1592.5 958.9V976.9M1595.5 957.1V977.0M1598.5 955.8V979.8M1601.5 951.1V969.3M1604.5 956.8V977.2M1607.5 951.5V987.7M1610.5 957.6V979.1M1613.5 947.9V973.8M1616.5 961.0V982.7M1619.5 961.8V980.1M1622.5 957.9V980.1M1625.5 958.5V973.4M1628.5 957.0V975.7M1631.5 944.3V978.0M1634.5 944.3V966.3M1637.5 957.3V980.8M1640.5 955.8V975.0M1643.5 944.0V979.7M1646.5 944.0V967.2M1649.5 957.0V970.2M1652.5 959.2V971.5M1655.5 956.0V965.8M1658.5 956.0V976.7M1661.5 956.2V976.7M1664.5 954.2V966.1M1667.5 956.1V972.8M1670.5 953.2V972.1M1673.5 954.4V970.6M1676.5 952.3V975.0M1679.5 959.0V975.9M1682.5 948.5V978.5M1685.5 942.9V966.7M1688.5 942.9V980.7M1691.5 943.3V971.1M1694.5 943.1V974.4M1697.5 951.6V974.4M1700.5 950.3V964.4M1703.5 939.0V971.6M1706.5 939.0V971.8M1709.5 951.5V978.0M1712.5 952.8V970.6M1715.5 951.5V970.6M1718.5 952.0V966.4M1721.5 952.0V967.7M1724.5 949.8V979.5M1727.5 950.3V984.2M1730.5 951.6V976.6M1733.5 947.6V977.8M1736.5 947.6V971.3M1739.5 942.2V977.0M1742.5 950.7V983.7M1745.5 941.7V984.9M1748.5 944.8V965.2M1751.5 954.0V977.8M1754.5 941.8V975.3M1757.5 941.8V978.9M1760.5 947.3V969.6M1763.5 949.5V976.5M1766.5 947.6V967.3M1769.5 947.3V969.8M1772.5 954.7V966.5M1775.5 944.6V962.2M1778.5 944.6V974.2M1781.5 957.6V974.2M1784.5 940.3V967.1M1787.5 943.9V970.0M1790.5 933.4V968.1M1793.5 941.7V981.6M1796.5 945.1V981.6M1799.5 945.1V970.6M1802.5 943.1V964.8M1805.5 951.5V965.5M1808.5 948.5V976.6M1811.5 948.1V966.4M1814.5 948.3V964.7M1817.5 952.3V970.0M1820.5 930.4V962.0M1823.5 930.4V968.9M1826.5 942.2V974.8M1829.5 942.2V970.6M1832.5 939.4V962.9M1835.5 939.4V980.0M1838.5 930.4V957.1M1841.5 950.2V966.0M1844.5 937.6V965.6M1847.5 935.8V968.2M1850.5 935.8V977.2M1853.5 946.8V975.1M1856.5 945.5V969.2M1859.5 932.9V962.3M1862.5 945.2V967.9M1865.5 940.6V969.1M1868.5 939.3V961.7M1871.5 943.0V966.8M1874.5 940.1V971.0" stroke="#800080" stroke-width="3" fill="none"/>
<path d="M617.5 1121.5V1148.6M620.5 1130.7V1146.8M623.5 1125.2V1140.9M626.5 1117.0V1143.0M629.5 1115.2V1135.5M632.5 1115.2V1128.4M635.5 1113.6V1135.7M638.5 1105.2V1135.7M641.5 1107.0V1134.2M644.5 1107.8V1128.7M647.5 1104.2V1126.6M650.5 1106.7V1121.8M653.5 1111.1V1123.7M656.5 1095.6V1120.6M659.5 1107.3V1126.0M662.5 1101.8V1116.6M665.5 1102.9V1117.5M668.5 1101.6V1117.1M671.5 1098.9V1125.8M674.5 1097.9V1119.0M677.5 1095.0V1120.4M680.5 1094.7V1115.1M683.5 1094.7V1109.4M686.5 1098.2V1113.5M689.5 1096.4V1110.5M692.5 1096.1V1110.3M695.5 1094.6V1120.8M698.5 1088.5V1109.9M701.5 1088.2V1105.1M704.5 1087.6V1103.2M707.5 1091.5V1108.2M710.5 1094.8V1108.2M713.5 1090.3V1106.5M716.5 1086.1V1103.4M719.5 1085.3V1101.0M722.5 1091.7V1105.1M725.5 1079.1V1101.9M728.5 1089.2V1107.5M731.5 1087.4V1112.5M734.5 1093.0V1111.1M737.5 1087.6V1099.8M740.5 1087.6V1103.3M743.5 1091.7V1106.9M746.5 1089.5V1109.5M749.5 1088.0V1104.2M752.5 1089.0V1099.6M755.5 1089.6V1103.7M758.5 1085.4V1104.8M761.5 1091.4V1104.3M764.5 1085.0V1106.7M767.5 1085.8V1106.7M770.5 1078.4V1100.0M773.5 1096.6V1107.5M776.5 1079.8V1104.4M779.5 1089.0V1105.6M782.5 1089.0V1110.2M785.5 1087.2V1106.5M788.5 1088.4V1103.0M791.5 1091.4V1108.9M794.5 1082.3V1108.9M797.5 1089.3V1105.1M800.5 1083.4V1104.4M803.5 1080.3V1100.6M806.5 1070.8V1093.0M809.5 979.9V1079.9M812.5 979.9V1081.5M815.5 1077.7V1090.8M818.5 1081.0V1101.1M821.5 1081.0V1093.9M824.5 1079.4V1106.8M827.5 1085.2V1101.7M830.5 1076.2V1101.7M833.5 1076.3V1097.5M836.5 1079.0V1099.7M839.5 1083.1V1097.5M842.5 1080.8V1099.7M845.5 1080.8V1099.8M848.5 1072.5V1098.1M851.5 1086.3V1093.4M854.5 1082.8V1103.6M857.5 1082.8V1106.8M860.5 1080.6V1098.2M863.5 1080.6V1099.3M866.5 1077.9V1094.8M869.5 1084.6V1098.4M872.5 1078.9V1104.4M875.5 1079.0V1104.4M878.5 1079.0V1092.6M881.5 1080.9V1115.5M884.5 1080.6V1093.8M887.5 1079.3V1100.6M890.5 1078.3V1094.3M893.5 1078.3V1093.7M896.5 1076.6V1093.5M899.5 1073.8V1103.0M902.5 1080.3V1097.7M905.5 1068.8V1097.7M908.5 1075.5V1093.2M911.5 1072.3V1094.3M914.5 1077.2V1096.3M917.5 1079.2V1099.5M920.5 1077.9V1099.2M923.5 863.2V1099.2M926.5 745.6V866.2M929.5 749.9V1002.5M932.5 999.5V1108.6M935.5 1071.1V1099.5M938.5 1078.1V1100.7M941.5 1074.7V1096.4M944.5 1078.2V1098.8M947.5 1080.8V1098.8M950.5 1081.8V1097.5M953.5 1083.3V1101.6M956.5 1080.5V1093.8M959.5 1075.0V1097.5M962.5 1076.6V1105.0M965.5 1076.6V1097.4M968.5 1077.4V1095.8M971.5 1084.8V1098.5M974.5 1076.3V1093.8M977.5 1081.7V1100.4M980.5 1076.0V1100.3M983.5 1082.6V1100.3M986.5 1082.0V1088.4M989.5 1082.1V1103.0M992.5 1085.5V1105.1M995.5 1072.5V1093.6M998.5 1076.8V1097.2M1001.5 1078.9V1095.3M1004.5 1078.1V1102.3M1007.5 1072.9V1092.6M1010.5 1079.8V1087.9M1013.5 1065.7V1085.1M1016.5 1065.8V1078.3M1019.5 1055.2V1075.0M1022.5 1048.2V1075.0M1025.5 1057.6V1080.6M1028.5 1017.0V1080.6M1031.5 1022.3V1081.3M1034.5 1056.2V1081.3M1037.5 1065.4V1082.9M1040.5 1062.9V1072.2M1043.5 1063.4V1087.5M1046.5 1065.9V1077.8M1049.5 1065.2V1083.4M1052.5 1060.2V1088.7M1055.5 1060.9V1082.6M1058.5 1063.2V1081.5M1061.5 1057.7V1072.9M1064.5 1061.9V1076.4M1067.5 1065.5V1081.5M1070.5 1064.9V1084.7M1073.5 1064.9V1078.3M1076.5 1067.4V1090.6M1079.5 1060.0V1090.6M1082.5 1062.8V1082.9M1085.5 1066.8V1080.3M1088.5 1057.6V1082.1M1091.5 1053.8V1079.4M1094.5 1018.8V1064.5M1097.5 1019.2V1072.9M1100.5 1058.4V1078.0M1103.5 1056.3V1074.8M1106.5 1032.4V1066.4M1109.5 1032.4V1064.3M1112.5 1056.8V1076.7M1115.5 1061.2V1075.7M1118.5 1051.9V1071.0M1121.5 1009.7V1070.5M1124.5 1048.2V1084.2M1127.5 1061.5V1084.2M1130.5 1062.2V1086.1M1133.5 1060.4V1086.1M1136.5 1064.9V1080.6M1139.5 1057.1V1079.2M1142.5 1023.0V1061.1M1145.5 1055.0V1077.8M1148.5 1065.9V1077.4M1151.5 1043.1V1080.1M1154.5 990.5V1072.6M1157.5 983.0V1046.1M1160.5 1037.7V1066.1M1163.5 1063.1V1074.9M1166.5 1068.1V1079.5M1169.5 1058.1V1079.5M1172.5 1058.1V1080.6M1175.5 1066.9V1080.4M1178.5 1062.9V1077.3M1181.5 1056.5V1073.3M1184.5 1056.5V1073.5M1187.5 1052.6V1078.2M1190.5 1046.2V1073.2M1193.5 1052.4V1076.3M1196.5 1055.3V1076.3M1199.5 1058.3V1072.3M1202.5 1058.6V1073.3M1205.5 1036.4V1062.4M1208.5 1018.1V1055.6M1211.5 1025.1V1049.4M1214.5 1045.2V1058.5M1217.5 1039.9V1058.6M1220.5 1039.6V1057.3M1223.5 1031.2V1057.3M1226.5 1030.0V1053.0M1229.5 1021.5V1051.5M1232.5 1006.7V1029.9M1235.5 1010.7V1054.3M1238.5 1034.0V1047.6M1241.5 1032.7V1046.2M1244.5 1036.7V1051.9M1247.5 1024.2V1041.5M1250.5 1020.3V1045.1M1253.5 1012.2V1023.3M1256.5 999.0V1021.8M1259.5 974.4V1002.0M1262.5 962.9V987.8M1265.5 966.2V1035.3M1268.5 1029.1V1061.8M1271.5 1047.7V1078.0M1274.5 1049.3V1074.7M1277.5 1058.1V1065.1M1280.5 1050.1V1066.0M1283.5 1051.0V1067.8M1286.5 1049.4V1074.0M1289.5 1049.4V1069.5M1292.5 1050.6V1065.8M1295.5 1049.6V1062.7M1298.5 1050.7V1080.7M1301.5 1051.8V1072.5M1304.5 1049.5V1066.7M1307.5 1051.4V1066.1M1310.5 1051.4V1065.6M1313.5 1056.7V1065.0M1316.5 1042.0V1072.4M1319.5 1054.0V1072.4M1322.5 1051.3V1068.3M1325.5 1045.7V1068.9M1328.5 1048.1V1070.0M1331.5 1044.4V1067.0M1334.5 1044.4V1063.2M1337.5 1040.0V1066.2M1340.5 1044.9V1065.6M1343.5 1048.6V1069.6M1346.5 1048.6V1066.0M1349.5 1045.3V1069.7M1352.5 1047.4V1063.7M1355.5 1049.0V1066.9M1358.5 1042.5V1066.9M1361.5 1047.9V1061.0M1364.5 1046.4V1064.1M1367.5 1041.2V1059.7M1370.5 1040.8V1059.6M1373.5 1034.7V1057.1M1376.5 1036.4V1059.8M1379.5 1044.5V1060.5M1382.5 1041.7V1072.9M1385.5 1043.0V1072.9M1388.5 1031.2V1071.0M1391.5 1041.0V1058.7M1394.5 1037.1V1050.6M1397.5 1037.1V1065.4M1400.5 1035.8V1068.8M1403.5 1015.0V1059.0M1406.5 1013.6V1030.4M1409.5 1027.4V1049.9M1412.5 1043.1V1057.9M1415.5 1045.9V1063.7M1418.5 1034.9V1058.8M1421.5 1042.4V1056.3M1424.5 1033.7V1060.5M1427.5 1035.5V1064.3M1430.5 1035.5V1060.8M1433.5 1040.5V1062.3M1436.5 1045.7V1061.1M1439.5 1047.1V1062.6M1442.5 1037.7V1061.0M1445.5 1043.9V1061.0M1448.5 1040.1V1053.1M1451.5 1041.0V1069.7M1454.5 1040.7V1061.7M1457.5 1037.7V1061.7M1460.5 1037.5V1056.3M1463.5 1034.9V1052.3M1466.5 1022.5V1047.0M1469.5 1011.9V1050.2M1472.5 1041.7V1053.2M1475.5 1036.7V1056.2M1478.5 1038.0V1058.1M1481.5 1047.9V1066.6M1484.5 1040.2V1061.0M1487.5 1040.1V1062.0M1490.5 1033.8V1055.3M1493.5 1038.6V1061.1M1496.5 1041.7V1061.5M1499.5 1039.4V1048.5M1502.5 1044.4V1057.4M1505.5 1040.5V1057.4M1508.5 1038.0V1056.0M1511.5 1041.2V1064.9M1514.5 1039.0V1056.2M1517.5 1035.2V1060.5M1520.5 1025.4V1061.4M1523.5 1029.3V1061.4M1526.5 1036.6V1055.8M1529.5 1041.2V1061.3M1532.5 1001.2V1047.4M1535.5 1006.6V1037.0M1538.5 1029.0V1049.6M1541.5 1031.2V1054.1M1544.5 1033.9V1055.7M1547.5 1031.1V1056.0M1550.5 1041.1V1049.8M1553.5 1037.6V1058.2M1556.5 1047.7V1063.6M1559.5 1033.6V1059.9M1562.5 1030.0V1049.9M1565.5 1037.5V1047.3M1568.5 1029.8V1050.6M1571.5 1032.6V1056.3M1574.5 1034.8V1051.2M1577.5 1034.8V1060.5M1580.5 1036.3V1060.1M1583.5 1029.5V1050.0M1586.5 1024.1V1052.7M1589.5 1036.7V1056.1M1592.5 1030.9V1050.8M1595.5 1020.6V1046.4M1598.5 1020.6V1050.6M1601.5 1028.8V1054.8M1604.5 1041.5V1057.3M1607.5 1033.1V1050.2M1610.5 1036.0V1055.1M1613.5 1037.2V1055.1M1616.5 1030.3V1054.1M1619.5 1035.4V1054.0M1622.5 1029.8V1045.5M1625.5 1030.1V1045.6M1628.5 1034.1V1056.3M1631.5 1032.0V1056.3M1634.5 1031.2V1046.8M1637.5 1028.5V1050.0M1640.5 1034.3V1060.7M1643.5 1028.0V1060.7M1646.5 1022.5V1045.9M1649.5 1026.7V1045.9M1652.5 1026.7V1056.7M1655.5 1028.3V1046.8M1658.5 1027.1V1044.6M1661.5 1020.1V1050.1M1664.5 1029.7V1050.1M1667.5 1030.7V1049.2M1670.5 1030.7V1050.1M1673.5 1030.5V1047.9M1676.5 1033.1V1046.4M1679.5 1024.3V1051.4M1682.5 1028.5V1041.5M1685.5 1028.5V1042.8M1688.5 1036.8V1051.2M1691.5 1031.7V1051.2M1694.5 1031.7V1051.0M1697.5 1030.7V1050.3M1700.5 1030.9V1044.0M1703.5 1028.6V1045.7M1706.5 1029.8V1052.3M1709.5 1032.9V1051.1M1712.5 1034.3V1050.2M1715.5 1034.3V1043.0M1718.5 1034.5V1047.9M1721.5 1032.0V1050.0M1724.5 1029.3V1063.3M1727.5 1032.8V1048.5M1730.5 1029.4V1052.6M1733.5 1031.7V1052.6M1736.5 1031.2V1053.0M1739.5 1024.3V1050.4M1742.5 1024.9V1050.8M1745.5 1019.9V1040.8M1748.5 1029.9V1048.5M1751.5 1030.0V1050.4M1754.5 1026.4V1039.2M1757.5 1026.4V1043.1M1760.5 1023.7V1038.5M1763.5 1029.5V1040.2M1766.5 1012.2V1040.2M1769.5 1012.2V1035.0M1772.5 1014.4V1039.3M1775.5 1030.3V1039.9M1778.5 1026.3V1042.8M1781.5 1019.4V1042.8M1784.5 1025.6V1038.5M1787.5 1026.2V1058.0M1790.5 1022.9V1039.3M1793.5 1018.6V1041.0M1796.5 1027.7V1039.7M1799.5 1022.4V1038.8M1802.5 1020.9V1040.2M1805.5 1020.9V1045.4M1808.5 1016.7V1040.3M1811.5 1011.5V1038.5M1814.5 1018.3V1039.9M1817.5 1022.4V1041.2M1820.5 1015.4V1044.3M1823.5 1007.0V1046.6M1826.5 1017.3V1035.4M1829.5 1011.7V1035.4M1832.5 1011.7V1044.0M1835.5 1019.5V1037.4M1838.5 1018.8V1037.7M1841.5 1014.6V1048.4M1844.5 1018.3V1048.4M1847.5 1020.6V1035.7M1850.5 1021.8V1052.1M1853.5 1018.4V1041.3M1856.5 1011.7V1038.6M1859.5 1026.4V1051.7M1862.5 1028.7V1051.7M1865.5 1019.3V1043.4M1868.5 1027.9V1038.7M1871.5 1026.0V1043.2M1874.5 1026.0V1048.4" stroke="#8000ff" stroke-width="3" fill="none"/>
<path d="M617.5 1216.1V1235.4M620.5 1216.1V1232.7M623.5 1211.9V1223.1M626.5 1212.6V1226.8M629.5 1207.2V1222.5M632.5 1206.3V1217.8M635.5 1193.2V1216.8M638.5 1193.2V1221.3M641.5 1196.1V1206.0M644.5 1189.6V1209.4M647.5 1193.6V1209.4M650.5 1193.0V1208.5M653.5 1183.0V1199.1M656.5 1182.4V1200.8M659.5 1188.2V1201.5M662.5 1186.3V1201.5M665.5 1182.1V1201.0M668.5 1187.6V1197.0M671.5 1177.6V1190.9M674.5 1171.6V1193.5M677.5 1171.6V1195.5M680.5 1173.4V1196.3M683.5 1171.1V1196.7M686.5 1176.2V1192.8M689.5 1175.4V1190.0M692.5 1169.9V1189.1M695.5 1169.9V1186.5M698.5 1174.1V1186.4M701.5 1168.1V1191.9M704.5 1180.2V1192.2M707.5 1168.8V1188.9M710.5 1168.8V1185.7M713.5 1168.8V1181.7M716.5 1170.3V1186.8M719.5 1172.9V1192.4M722.5 1167.0V1185.4M725.5 1175.5V1194.0M728.5 1167.7V1185.2M731.5 1169.6V1185.4M734.5 1169.6V1186.2M737.5 1177.3V1188.5M740.5 1173.8V1187.9M743.5 1174.7V1186.6M746.5 1171.4V1183.3M749.5 1167.3V1184.0M752.5 1167.3V1193.8M755.5 1166.3V1193.8M758.5 1178.1V1196.6M761.5 1172.4V1187.9M764.5 1171.6V1196.3M767.5 1170.3V1181.1M770.5 1170.6V1185.7M773.5 1164.3V1185.7M776.5 1175.7V1188.4M779.5 1164.8V1188.4M782.5 1164.8V1184.2M785.5 1171.1V1185.6M788.5 1171.1V1192.8M791.5 1172.2V1192.8M794.5 1172.1V1192.2M797.5 1164.4V1184.8M800.5 1171.2V1184.8M803.5 1177.2V1192.9M806.5 1165.5V1184.8M809.5 1096.0V1174.2M812.5 1096.3V1181.1M815.5 1171.0V1192.5M818.5 1171.8V1194.0M821.5 1178.0V1194.0M824.5 1175.0V1190.7M827.5 1172.7V1191.6M830.5 1172.6V1189.2M833.5 1172.2V1180.8M836.5 1172.2V1192.3M839.5 1174.9V1192.3M842.5 1174.6V1186.8M845.5 1177.6V1188.8M848.5 1179.2V1194.1M851.5 1173.6V1187.9M854.5 1175.8V1187.7M857.5 1174.0V1195.5M860.5 1174.7V1191.5M863.5 1174.0V1187.9M866.5 1171.9V1186.0M869.5 1173.7V1191.4M872.5 1177.4V1190.5M875.5 1170.3V1188.0M878.5 1167.7V1186.8M881.5 1173.1V1185.9M884.5 1173.5V1190.0M887.5 1164.7V1186.7M890.5 1167.1V1180.1M893.5 1176.7V1185.2M896.5 1172.6V1185.2M899.5 1164.2V1183.5M902.5 1169.6V1184.5M905.5 1171.4V1187.2M908.5 1172.6V1186.7M911.5 1170.1V1186.3M914.5 1170.1V1184.4M917.5 1170.5V1185.6M920.5 1162.5V1190.8M923.5 977.4V1184.0M926.5 866.2V980.4M929.5 870.1V1093.8M932.5 1090.8V1190.5M935.5 1166.0V1190.5M938.5 1165.0V1183.6M941.5 1172.4V1181.5M944.5 1171.9V1186.5M947.5 1167.5V1183.6M950.5 1170.6V1183.6M953.5 1171.1V1189.9M956.5 1170.1V1181.8M959.5 1168.7V1178.7M962.5 1172.9V1182.3M965.5 1162.5V1182.5M968.5 1167.7V1179.9M971.5 1164.8V1180.5M974.5 1165.9V1180.5M977.5 1163.7V1174.7M980.5 1163.7V1194.0M983.5 1167.8V1182.2M986.5 1168.7V1180.7M989.5 1170.3V1177.8M992.5 1169.1V1184.9M995.5 1162.8V1177.1M998.5 1164.2V1186.9M1001.5 1161.4V1183.1M1004.5 1161.4V1185.7M1007.5 1168.7V1185.7M1010.5 1160.9V1172.9M1013.5 1160.9V1177.7M1016.5 1158.1V1173.0M1019.5 1152.3V1169.9M1022.5 1156.2V1174.8M1025.5 1157.7V1170.6M1028.5 1115.0V1168.8M1031.5 1117.1V1163.1M1034.5 1155.8V1179.8M1037.5 1157.1V1179.8M1040.5 1161.0V1172.1M1043.5 1158.5V1178.5M1046.5 1164.4V1179.1M1049.5 1164.2V1179.1M1052.5 1158.4V1172.6M1055.5 1163.3V1176.2M1058.5 1161.5V1180.1M1061.5 1159.6V1170.8M1064.5 1159.6V1175.0M1067.5 1155.3V1172.2M1070.5 1159.7V1175.5M1073.5 1158.4V1180.0M1076.5 1154.8V1177.8M1079.5 1159.5V1177.8M1082.5 1155.6V1179.5M1085.5 1163.2V1179.5M1088.5 1161.4V1172.5M1091.5 1161.0V1173.1M1094.5 1111.0V1169.2M1097.5 1126.0V1164.6M1100.5 1160.0V1170.2M1103.5 1160.0V1168.2M1106.5 1132.7V1165.5M1109.5 1132.7V1160.9M1112.5 1141.5V1177.8M1115.5 1148.9V1177.2M1118.5 1141.8V1177.2M1121.5 1117.4V1151.4M1124.5 1147.8V1174.7M1127.5 1157.8V1181.9M1130.5 1148.9V1175.0M1133.5 1163.5V1175.0M1136.5 1164.8V1178.8M1139.5 1147.1V1170.9M1142.5 1108.3V1150.1M1145.5 1142.7V1171.6M1148.5 1158.3V1176.2M1151.5 1159.9V1176.2M1154.5 1102.7V1164.7M1157.5 1084.3V1158.4M1160.5 1153.6V1172.0M1163.5 1153.6V1164.7M1166.5 1158.9V1176.7M1169.5 1158.6V1175.5M1172.5 1157.3V1176.2M1175.5 1160.2V1176.5M1178.5 1160.2V1172.5M1181.5 1155.8V1178.2M1184.5 1155.8V1172.6M1187.5 1156.4V1185.5M1190.5 1158.4V1173.5M1193.5 1150.3V1173.1M1196.5 1150.3V1170.5M1199.5 1155.1V1176.0M1202.5 1153.9V1168.9M1205.5 1149.9V1168.6M1208.5 1139.0V1152.9M1211.5 1131.6V1154.2M1214.5 1147.6V1159.1M1217.5 1147.7V1160.7M1220.5 1146.8V1161.0M1223.5 1146.5V1163.6M1226.5 1138.6V1163.6M1229.5 1129.2V1151.0M1232.5 1114.8V1132.2M1235.5 1120.3V1148.2M1238.5 1141.8V1160.5M1241.5 1142.2V1161.4M1244.5 1135.1V1151.8M1247.5 1133.6V1152.6M1250.5 1129.7V1159.8M1253.5 1116.2V1133.4M1256.5 1109.1V1132.2M1259.5 1095.9V1115.0M1262.5 1085.3V1099.7M1265.5 1085.4V1149.8M1268.5 1142.9V1164.5M1271.5 1150.6V1166.7M1274.5 1152.3V1165.9M1277.5 1147.0V1165.8M1280.5 1149.1V1166.7M1283.5 1153.0V1168.8M1286.5 1147.1V1181.8M1289.5 1152.2V1167.0M1292.5 1147.8V1166.9M1295.5 1148.5V1172.0M1298.5 1153.1V1174.0M1301.5 1157.2V1174.0M1304.5 1146.4V1166.5M1307.5 1146.9V1167.5M1310.5 1155.7V1166.0M1313.5 1150.8V1172.4M1316.5 1152.5V1167.4M1319.5 1159.1V1176.6M1322.5 1152.2V1168.9M1325.5 1151.5V1174.7M1328.5 1149.0V1173.9M1331.5 1149.0V1169.2M1334.5 1160.1V1176.4M1337.5 1159.3V1173.0M1340.5 1155.4V1167.3M1343.5 1157.3V1173.6M1346.5 1157.3V1173.6M1349.5 1154.2V1173.3M1352.5 1151.6V1179.3M1355.5 1154.6V1179.3M1358.5 1159.4V1174.7M1361.5 1152.0V1165.7M1364.5 1150.8V1166.0M1367.5 1153.4V1171.6M1370.5 1145.3V1171.6M1373.5 1143.9V1165.1M1376.5 1148.1V1164.7M1379.5 1148.1V1166.2M1382.5 1149.1V1165.0M1385.5 1141.1V1173.5M1388.5 1149.7V1163.3M1391.5 1149.7V1166.2M1394.5 1141.0V1164.9M1397.5 1147.3V1168.1M1400.5 1148.3V1168.1M1403.5 1116.1V1161.1M1406.5 1116.1V1141.8M1409.5 1138.8V1153.2M1412.5 1143.7V1158.9M1415.5 1139.1V1163.2M1418.5 1139.1V1162.6M1421.5 1150.5V1167.7M1424.5 1143.6V1168.1M1427.5 1150.3V1165.9M1430.5 1150.5V1168.8M1433.5 1155.1V1168.8M1436.5 1145.9V1166.1M1439.5 1152.2V1166.6M1442.5 1149.5V1165.6M1445.5 1143.3V1163.1M1448.5 1148.2V1165.6M1451.5 1148.1V1163.4M1454.5 1144.1V1158.4M1457.5 1140.6V1156.9M1460.5 1142.3V1161.4M1463.5 1142.3V1158.5M1466.5 1133.7V1158.5M1469.5 1129.4V1156.6M1472.5 1148.5V1164.8M1475.5 1146.0V1160.5M1478.5 1137.9V1158.6M1481.5 1147.2V1158.2M1484.5 1143.0V1159.0M1487.5 1139.8V1159.9M1490.5 1141.8V1154.1M1493.5 1141.4V1165.6M1496.5 1136.6V1165.6M1499.5 1143.4V1160.4M1502.5 1146.7V1168.5M1505.5 1141.8V1157.3M1508.5 1145.5V1156.2M1511.5 1142.0V1163.0M1514.5 1145.0V1159.7M1517.5 1140.5V1158.2M1520.5 1140.4V1157.3M1523.5 1143.0V1157.3M1526.5 1136.3V1154.5M1529.5 1136.3V1152.2M1532.5 1126.0V1151.2M1535.5 1131.4V1152.1M1538.5 1133.7V1156.4M1541.5 1133.0V1156.4M1544.5 1146.3V1160.7M1547.5 1140.2V1154.6M1550.5 1143.5V1160.9M1553.5 1141.3V1159.8M1556.5 1139.8V1158.1M1559.5 1143.5V1152.7M1562.5 1141.2V1153.7M1565.5 1140.8V1159.8M1568.5 1140.8V1156.4M1571.5 1147.3V1157.9M1574.5 1131.8V1159.3M1577.5 1138.9V1159.8M1580.5 1139.9V1153.9M1583.5 1139.7V1152.4M1586.5 1135.7V1152.4M1589.5 1135.7V1151.7M1592.5 1137.4V1155.9M1595.5 1143.4V1155.9M1598.5 1139.0V1169.5M1601.5 1139.0V1151.2M1604.5 1135.3V1156.5M1607.5 1135.3V1148.4M1610.5 1143.8V1160.1M1613.5 1142.6V1152.8M1616.5 1139.4V1158.2M1619.5 1137.1V1149.2M1622.5 1136.2V1158.8M1625.5 1140.4V1166.5M1628.5 1142.0V1157.6M1631.5 1139.4V1154.5M1634.5 1136.4V1148.3M1637.5 1145.2V1155.4M1640.5 1139.1V1155.2M1643.5 1137.5V1155.9M1646.5 1132.4V1153.0M1649.5 1135.9V1151.5M1652.5 1138.5V1157.1M1655.5 1132.2V1152.9M1658.5 1142.7V1153.4M1661.5 1142.9V1152.5M1664.5 1135.8V1155.6M1667.5 1135.8V1159.4M1670.5 1140.0V1150.0M1673.5 1134.9V1156.6M1676.5 1139.2V1160.2M1679.5 1135.8V1157.9M1682.5 1136.5V1149.0M1685.5 1137.2V1155.8M1688.5 1139.0V1155.8M1691.5 1133.4V1149.9M1694.5 1138.9V1156.5M1697.5 1139.4V1153.0M1700.5 1129.9V1155.2M1703.5 1129.9V1150.9M1706.5 1139.7V1155.6M1709.5 1130.8V1155.6M1712.5 1135.9V1152.9M1715.5 1127.0V1157.7M1718.5 1137.0V1149.1M1721.5 1132.2V1146.6M1724.5 1130.6V1146.6M1727.5 1130.3V1151.5M1730.5 1134.5V1156.0M1733.5 1134.5V1156.3M1736.5 1136.8V1148.3M1739.5 1136.1V1155.2M1742.5 1137.6V1149.2M1745.5 1135.8V1150.4M1748.5 1130.0V1153.0M1751.5 1139.0V1149.2M1754.5 1137.5V1152.4M1757.5 1134.2V1149.8M1760.5 1133.8V1147.6M1763.5 1131.8V1146.0M1766.5 1136.9V1152.3M1769.5 1137.8V1152.3M1772.5 1135.3V1153.3M1775.5 1133.8V1154.3M1778.5 1127.8V1154.3M1781.5 1132.1V1153.9M1784.5 1125.1V1152.6M1787.5 1126.5V1158.2M1790.5 1132.9V1146.9M1793.5 1125.0V1146.0M1796.5 1125.0V1148.4M1799.5 1128.8V1157.1M1802.5 1127.2V1145.7M1805.5 1127.2V1147.8M1808.5 1127.6V1147.8M1811.5 1105.2V1143.6M1814.5 1130.1V1146.8M1817.5 1132.6V1152.0M1820.5 1130.1V1144.3M1823.5 1129.2V1143.3M1826.5 1125.9V1148.0M1829.5 1125.4V1148.0M1832.5 1124.8V1144.8M1835.5 1132.4V1144.8M1838.5 1128.0V1142.6M1841.5 1126.2V1146.7M1844.5 1132.9V1146.8M1847.5 1129.8V1150.2M1850.5 1129.2V1143.1M1853.5 1133.4V1145.3M1856.5 1121.6V1149.4M1859.5 1121.6V1145.3M1862.5 1129.4V1142.8M1865.5 1129.4V1147.9M1868.5 1123.7V1144.4M1871.5 1129.6V1143.8M1874.5 1129.8V1140.1" stroke="#000080" stroke-width="3" fill="none"/>
<path d="M617.5 1301.4V1318.6M620.5 1299.6V1320.8M623.5 1291.3V1308.4M626.5 1295.5V1314.3M629.5 1287.6V1311.6M632.5 1284.4V1312.4M635.5 1284.7V1312.4M638.5 1287.3V1303.6M641.5 1278.9V1297.6M644.5 1286.5V1296.8M647.5 1283.9V1294.7M650.5 1283.0V1289.5M653.5 1282.4V1293.8M656.5 1278.0V1300.3M659.5 1278.6V1291.2M662.5 1271.6V1298.2M665.5 1269.5V1286.8M668.5 1272.8V1291.5M671.5 1274.1V1290.9M674.5 1274.1V1287.7M677.5 1270.4V1283.7M680.5 1245.0V1286.1M683.5 1273.0V1286.0M686.5 1268.8V1280.7M689.5 1265.5V1282.8M692.5 1263.7V1279.4M695.5 1263.7V1276.9M698.5 1265.9V1276.9M701.5 1264.7V1272.6M704.5 1262.3V1276.5M707.5 1260.5V1279.8M710.5 1269.6V1279.8M713.5 1267.9V1276.1M716.5 1263.8V1278.3M719.5 1261.8V1276.3M722.5 1261.8V1273.2M725.5 1260.9V1278.8M728.5 1258.3V1277.3M731.5 1256.3V1272.9M734.5 1263.5V1280.9M737.5 1257.5V1278.0M740.5 1261.0V1270.1M743.5 1259.7V1282.9M746.5 1259.7V1277.1M749.5 1259.3V1267.2M752.5 1259.8V1268.5M755.5 1251.9V1280.1M758.5 1256.7V1270.3M761.5 1257.8V1275.1M764.5 1255.4V1281.8M767.5 1255.4V1273.6M770.5 1263.2V1273.9M773.5 1260.2V1269.2M776.5 1258.0V1280.5M779.5 1265.9V1278.8M782.5 1255.1V1278.3M785.5 1257.9V1277.1M788.5 1257.7V1278.9M791.5 1253.8V1278.4M794.5 1250.7V1275.8M797.5 1257.6V1275.5M800.5 1263.5V1275.1M803.5 1252.4V1266.5M806.5 1252.4V1267.7M809.5 1164.0V1258.2M812.5 1166.8V1255.1M815.5 1239.9V1277.4M818.5 1255.1V1270.0M821.5 1256.2V1272.8M824.5 1255.4V1278.5M827.5 1248.5V1271.1M830.5 1257.0V1279.5M833.5 1250.2V1272.6M836.5 1250.2V1271.6M839.5 1260.5V1273.8M842.5 1259.4V1276.4M845.5 1258.7V1271.9M848.5 1258.0V1276.1M851.5 1261.2V1272.2M854.5 1260.0V1275.5M857.5 1260.7V1286.9M860.5 1258.6V1274.9M863.5 1265.2V1273.9M866.5 1252.5V1278.5M869.5 1260.9V1274.5M872.5 1261.4V1272.8M875.5 1255.9V1271.0M878.5 1260.1V1274.0M881.5 1261.9V1276.1M884.5 1256.9V1270.7M887.5 1258.4V1271.4M890.5 1260.6V1271.4M893.5 1259.7V1280.8M896.5 1259.7V1278.3M899.5 1262.7V1270.6M902.5 1260.2V1272.7M905.5 1252.5V1272.7M908.5 1256.3V1270.7M911.5 1256.3V1277.4M914.5 1259.0V1274.1M917.5 1261.5V1272.6M920.5 1253.0V1278.8M923.5 1169.5V1272.7M926.5 1135.3V1172.5M929.5 1130.2V1229.2M932.5 1226.2V1272.8M935.5 1257.9V1270.2M938.5 1259.1V1272.2M941.5 1256.2V1275.8M944.5 1258.1V1271.4M947.5 1263.5V1272.3M950.5 1261.4V1272.3M953.5 1259.5V1273.6M956.5 1259.3V1273.6M959.5 1254.4V1276.7M962.5 1254.4V1272.2M965.5 1250.8V1279.3M968.5 1258.0V1270.9M971.5 1254.1V1272.4M974.5 1255.3V1272.4M977.5 1247.1V1265.1M980.5 1254.1V1273.9M983.5 1253.9V1275.7M986.5 1257.5V1268.3M989.5 1255.2V1265.9M992.5 1256.0V1266.7M995.5 1252.0V1272.9M998.5 1256.5V1272.9M1001.5 1256.5V1267.6M1004.5 1251.2V1267.6M1007.5 1255.0V1268.0M1010.5 1249.3V1266.9M1013.5 1240.3V1254.7M1016.5 1240.3V1259.8M1019.5 1238.4V1257.7M1022.5 1230.2V1252.5M1025.5 1237.3V1260.3M1028.5 1199.0V1243.0M1031.5 1207.6V1246.9M1034.5 1243.9V1253.1M1037.5 1246.1V1259.1M1040.5 1245.5V1262.2M1043.5 1245.6V1261.3M1046.5 1240.7V1264.4M1049.5 1240.7V1262.9M1052.5 1241.2V1260.4M1055.5 1237.6V1262.2M1058.5 1244.4V1257.4M1061.5 1237.1V1258.2M1064.5 1244.8V1255.1M1067.5 1248.2V1259.5M1070.5 1243.4V1262.7M1073.5 1247.7V1257.0M1076.5 1242.7V1269.0M1079.5 1244.9V1257.4M1082.5 1250.0V1265.0M1085.5 1248.8V1265.0M1088.5 1248.8V1259.0M1091.5 1246.5V1258.5M1094.5 1196.0V1258.5M1097.5 1200.8V1249.3M1100.5 1239.6V1254.0M1103.5 1235.5V1255.4M1106.5 1212.4V1247.5M1109.5 1212.4V1244.2M1112.5 1233.9V1250.8M1115.5 1239.6V1263.7M1118.5 1227.8V1252.1M1121.5 1194.5V1230.8M1124.5 1227.4V1259.9M1127.5 1234.9V1259.9M1130.5 1236.2V1260.7M1133.5 1241.2V1258.5M1136.5 1239.1V1253.0M1139.5 1229.1V1249.1M1142.5 1194.2V1243.3M1145.5 1227.2V1247.3M1148.5 1229.4V1249.5M1151.5 1230.8V1249.5M1154.5 1169.8V1241.7M1157.5 1167.4V1231.1M1160.5 1228.1V1246.9M1163.5 1232.1V1250.9M1166.5 1231.3V1246.7M1169.5 1233.8V1257.0M1172.5 1234.1V1257.0M1175.5 1236.8V1255.8M1178.5 1237.4V1249.7M1181.5 1237.4V1255.4M1184.5 1233.5V1246.4M1187.5 1241.4V1253.0M1190.5 1234.5V1253.8M1193.5 1234.5V1254.8M1196.5 1232.9V1254.8M1199.5 1229.3V1256.0M1202.5 1241.8V1256.0M1205.5 1216.6V1247.7M1208.5 1214.9V1236.4M1211.5 1219.3V1232.1M1214.5 1221.8V1232.1M1217.5 1226.7V1251.5M1220.5 1232.7V1243.2M1223.5 1222.5V1242.5M1226.5 1221.7V1234.1M1229.5 1204.7V1230.4M1232.5 1204.2V1213.5M1235.5 1204.9V1234.7M1238.5 1225.3V1237.6M1241.5 1221.6V1237.3M1244.5 1221.6V1237.3M1247.5 1218.7V1237.1M1250.5 1207.1V1230.1M1253.5 1193.3V1229.6M1256.5 1189.6V1210.0M1259.5 1163.4V1195.2M1262.5 1153.0V1173.6M1265.5 1162.4V1231.1M1268.5 1223.6V1250.1M1271.5 1234.0V1252.9M1274.5 1231.7V1252.9M1277.5 1231.7V1255.5M1280.5 1242.2V1252.3M1283.5 1239.8V1256.2M1286.5 1245.1V1254.6M1289.5 1235.3V1254.6M1292.5 1235.3V1253.3M1295.5 1235.6V1255.9M1298.5 1231.7V1253.9M1301.5 1231.4V1247.5M1304.5 1237.7V1252.2M1307.5 1239.8V1256.0M1310.5 1239.8V1253.5M1313.5 1234.3V1251.3M1316.5 1234.1V1257.3M1319.5 1238.0V1254.4M1322.5 1238.6V1254.4M1325.5 1233.2V1252.2M1328.5 1233.2V1252.7M1331.5 1234.2V1253.4M1334.5 1234.2V1252.8M1337.5 1230.9V1249.8M1340.5 1232.5V1249.5M1343.5 1237.5V1246.4M1346.5 1228.3V1243.8M1349.5 1232.0V1247.9M1352.5 1231.7V1249.9M1355.5 1235.2V1247.1M1358.5 1236.3V1254.0M1361.5 1232.3V1246.5M1364.5 1231.1V1244.2M1367.5 1234.2V1246.6M1370.5 1227.9V1241.3M1373.5 1231.9V1247.9M1376.5 1226.8V1252.4M1379.5 1226.8V1244.4M1382.5 1228.8V1239.1M1385.5 1233.3V1250.2M1388.5 1226.1V1248.9M1391.5 1233.5V1248.9M1394.5 1221.4V1243.1M1397.5 1225.4V1245.1M1400.5 1227.9V1251.4M1403.5 1203.0V1231.8M1406.5 1203.6V1230.1M1409.5 1217.0V1233.2M1412.5 1219.3V1238.7M1415.5 1226.8V1239.7M1418.5 1220.5V1236.0M1421.5 1215.3V1239.0M1424.5 1215.8V1239.0M1427.5 1219.8V1243.4M1430.5 1228.4V1244.0M1433.5 1232.5V1245.7M1436.5 1232.5V1242.5M1439.5 1228.7V1243.1M1442.5 1219.2V1241.8M1445.5 1222.9V1244.6M1448.5 1222.9V1243.5M1451.5 1227.8V1240.8M1454.5 1227.4V1238.9M1457.5 1219.2V1241.4M1460.5 1225.4V1237.7M1463.5 1214.6V1237.7M1466.5 1210.6V1225.9M1469.5 1207.3V1228.4M1472.5 1224.5V1236.6M1475.5 1225.6V1240.6M1478.5 1224.1V1232.6M1481.5 1223.2V1234.3M1484.5 1227.5V1238.9M1487.5 1217.4V1241.5M1490.5 1221.7V1233.6M1493.5 1221.7V1236.4M1496.5 1222.7V1235.1M1499.5 1218.3V1241.8M1502.5 1218.3V1235.2M1505.5 1224.4V1235.3M1508.5 1221.5V1243.5M1511.5 1214.3V1243.7M1514.5 1223.8V1243.7M1517.5 1213.8V1237.3M1520.5 1213.8V1239.2M1523.5 1227.8V1239.5M1526.5 1221.8V1249.2M1529.5 1215.7V1233.0M1532.5 1194.7V1237.7M1535.5 1194.7V1220.2M1538.5 1216.0V1227.4M1541.5 1219.9V1234.7M1544.5 1216.9V1232.6M1547.5 1212.8V1232.5M1550.5 1225.0V1237.4M1553.5 1214.6V1237.6M1556.5 1214.6V1241.0M1559.5 1220.1V1241.0M1562.5 1215.1V1234.9M1565.5 1220.9V1235.0M1568.5 1217.4V1233.0M1571.5 1222.1V1239.4M1574.5 1218.4V1238.5M1577.5 1220.9V1236.8M1580.5 1212.2V1231.5M1583.5 1212.2V1237.6M1586.5 1212.3V1231.8M1589.5 1212.7V1229.0M1592.5 1216.5V1229.2M1595.5 1221.7V1232.7M1598.5 1211.0V1234.2M1601.5 1212.4V1234.2M1604.5 1212.4V1233.7M1607.5 1211.4V1232.8M1610.5 1219.0V1236.0M1613.5 1216.3V1236.0M1616.5 1205.9V1231.5M1619.5 1216.7V1229.8M1622.5 1215.5V1226.3M1625.5 1215.4V1230.4M1628.5 1213.3V1230.4M1631.5 1216.2V1230.1M1634.5 1206.4V1229.7M1637.5 1211.9V1225.7M1640.5 1212.0V1229.2M1643.5 1214.7V1232.9M1646.5 1216.6V1232.9M1649.5 1209.8V1230.1M1652.5 1214.1V1224.4M1655.5 1214.1V1229.5M1658.5 1213.3V1230.2M1661.5 1214.6V1237.4M1664.5 1212.7V1237.4M1667.5 1210.1V1238.1M1670.5 1215.8V1238.1M1673.5 1218.7V1229.4M1676.5 1209.1V1229.6M1679.5 1209.1V1223.2M1682.5 1210.4V1237.6M1685.5 1201.9V1235.5M1688.5 1201.9V1230.4M1691.5 1212.6V1229.2M1694.5 1213.8V1227.1M1697.5 1221.5V1230.9M1700.5 1219.6V1237.4M1703.5 1216.9V1232.2M1706.5 1214.9V1231.5M1709.5 1220.6V1230.5M1712.5 1213.2V1235.2M1715.5 1209.8V1231.8M1718.5 1210.6V1226.0M1721.5 1216.0V1233.9M1724.5 1213.9V1234.9M1727.5 1213.9V1227.6M1730.5 1215.1V1231.9M1733.5 1203.9V1229.9M1736.5 1203.9V1233.6M1739.5 1210.9V1225.0M1742.5 1213.5V1230.9M1745.5 1211.8V1229.9M1748.5 1213.7V1230.4M1751.5 1211.6V1230.4M1754.5 1209.1V1227.7M1757.5 1211.9V1221.4M1760.5 1207.3V1233.1M1763.5 1206.2V1226.7M1766.5 1213.0V1226.7M1769.5 1212.6V1223.7M1772.5 1212.1V1226.0M1775.5 1205.5V1225.3M1778.5 1204.6V1226.0M1781.5 1208.0V1230.2M1784.5 1207.3V1228.0M1787.5 1212.3V1228.0M1790.5 1207.4V1227.9M1793.5 1204.0V1224.8M1796.5 1205.9V1222.2M1799.5 1205.9V1219.7M1802.5 1209.2V1220.0M1805.5 1210.7V1227.0M1808.5 1208.7V1227.0M1811.5 1209.7V1226.2M1814.5 1208.0V1231.1M1817.5 1205.4V1231.1M1820.5 1205.4V1224.1M1823.5 1205.8V1220.9M1826.5 1206.6V1218.0M1829.5 1202.9V1223.5M1832.5 1202.9V1219.8M1835.5 1205.9V1219.1M1838.5 1206.8V1219.0M1841.5 1200.3V1216.4M1844.5 1199.5V1224.1M1847.5 1206.9V1226.4M1850.5 1202.4V1221.8M1853.5 1202.4V1225.9M1856.5 1192.9V1218.5M1859.5 1197.9V1217.3M1862.5 1198.5V1225.8M1865.5 1195.4V1220.7M1868.5 1202.7V1219.6M1871.5 1199.5V1217.8M1874.5 1204.2V1216.6" stroke="#008000" stroke-width="3" fill="none"/>
</g>
<g id="markers" fill="#000">
<path d="M811.5 126.0Q821.7 133.6 828.0 146.0Q821.7 158.4 811.5 166.0Q801.3 158.4 795.0 146.0Q801.3 133.6 811.5 126.0Z"/>
<path d="M931.2 113.5Q941.4 121.1 947.7 133.5Q941.4 145.9 931.2 153.5Q921.0 145.9 914.7 133.5Q921.0 121.1 931.2 113.5Z"/>
<path d="M1031.2 262.0Q1041.4 269.6 1047.7 282.0Q1041.4 294.4 1031.2 302.0Q1021.0 294.4 1014.7 282.0Q1021.0 269.6 1031.2 262.0Z"/>
<path d="M1097.7 229.5Q1107.9 237.1 1114.2 249.5Q1107.9 261.9 1097.7 269.5Q1087.5 261.9 1081.2 249.5Q1087.5 237.1 1097.7 229.5Z"/>
<path d="M1159.1 261.5Q1169.3 269.1 1175.6 281.5Q1169.3 293.9 1159.1 301.5Q1148.9 293.9 1142.6 281.5Q1148.9 269.1 1159.1 261.5Z"/>
<path d="M1235.7 302.5Q1245.9 310.1 1252.2 322.5Q1245.9 334.9 1235.7 342.5Q1225.5 334.9 1219.2 322.5Q1225.5 310.1 1235.7 302.5Z"/>
<path d="M1267.9 192.0Q1278.1 199.6 1284.4 212.0Q1278.1 224.4 1267.9 232.0Q1257.7 224.4 1251.4 212.0Q1257.7 199.6 1267.9 192.0Z"/>
<path d="M1409.0 296.0Q1419.2 303.6 1425.5 316.0Q1419.2 328.4 1409.0 336.0Q1398.8 328.4 1392.5 316.0Q1398.8 303.6 1409.0 296.0Z"/>
<path d="M1472.0 298.0Q1482.2 305.6 1488.5 318.0Q1482.2 330.4 1472.0 338.0Q1461.8 330.4 1455.5 318.0Q1461.8 305.6 1472.0 298.0Z"/>
<path d="M1538.0 305.0Q1548.2 312.6 1554.5 325.0Q1548.2 337.4 1538.0 345.0Q1527.8 337.4 1521.5 325.0Q1527.8 312.6 1538.0 305.0Z"/>
<path d="M1004.0 917.8 L1013.0 917.8 L1016.0 920.6 L1019.0 925.8 L1022.0 920.6 L1025.0 917.8 L1034.0 917.8 L1037.0 921.1 L1037.0 935.3 L1018.5 954.2 L1001.0 935.3 L1001.0 921.1Z"/>
<path d="M1092.3 913.8 L1101.3 913.8 L1104.3 916.6 L1107.3 921.8 L1110.3 916.6 L1113.3 913.8 L1122.3 913.8 L1125.3 917.1 L1125.3 931.3 L1106.8 950.2 L1089.3 931.3 L1089.3 917.1Z"/>
<path d="M1107.5 871.5 L1116.5 871.5 L1119.5 874.3 L1122.5 879.5 L1125.5 874.3 L1128.5 871.5 L1137.5 871.5 L1140.5 874.8 L1140.5 889.0 L1122.0 908.0 L1104.5 889.0 L1104.5 874.8Z"/>
<path d="M1128.6 834.8 L1137.6 834.8 L1140.6 837.6 L1143.6 842.8 L1146.6 837.6 L1149.6 834.8 L1158.6 834.8 L1161.6 838.1 L1161.6 852.3 L1143.1 871.2 L1125.6 852.3 L1125.6 838.1Z"/>
<path d="M1187.0 908.8 L1196.0 908.8 L1199.0 911.6 L1202.0 916.8 L1205.0 911.6 L1208.0 908.8 L1217.0 908.8 L1220.0 912.1 L1220.0 926.3 L1201.5 945.2 L1184.0 926.3 L1184.0 912.1Z"/>
<path d="M319.0 172.0 L328.0 172.0 L331.0 175.0 L334.0 180.5 L337.0 175.0 L340.0 172.0 L349.0 172.0 L352.0 175.5 L352.0 190.5 L333.5 210.7 L316.0 190.5 L316.0 175.5Z"/>
<path d="M329.5 267.0Q339.7 274.7 346.0 287.3Q339.7 299.9 329.5 307.6Q319.3 299.9 313.0 287.3Q319.3 274.7 329.5 267.0Z"/>
</g>
<g id="axes" fill="#000">
<rect x="243" y="145" width="6" height="1311"/>
<rect x="243" y="1453" width="1798" height="3"/>
<rect x="244.2" y="1426" width="5" height="28"/>
<rect x="407.0" y="1426" width="5" height="28"/>
<rect x="569.8" y="1426" width="5" height="28"/>
<rect x="732.6" y="1426" width="5" height="28"/>
<rect x="895.4" y="1426" width="5" height="28"/>
<rect x="1058.2" y="1426" width="5" height="28"/>
<rect x="1221.0" y="1426" width="5" height="28"/>
<rect x="1383.8" y="1426" width="5" height="28"/>
<rect x="1546.6" y="1426" width="5" height="28"/>
<rect x="1709.4" y="1426" width="5" height="28"/>
<rect x="1872.2" y="1426" width="5" height="28"/>
<rect x="2035.0" y="1426" width="5" height="28"/>
<rect x="325.9" y="1440" width="4.4" height="14"/>
<rect x="488.7" y="1440" width="4.4" height="14"/>
<rect x="651.5" y="1440" width="4.4" height="14"/>
<rect x="814.3" y="1440" width="4.4" height="14"/>
<rect x="977.1" y="1440" width="4.4" height="14"/>
<rect x="1139.9" y="1440" width="4.4" height="14"/>
<rect x="1302.7" y="1440" width="4.4" height="14"/>
<rect x="1465.5" y="1440" width="4.4" height="14"/>
<rect x="1628.3" y="1440" width="4.4" height="14"/>
<rect x="1791.1" y="1440" width="4.4" height="14"/>
<rect x="1953.9" y="1440" width="4.4" height="14"/>
</g>
<g class="tk" fill="#000">
<text x="246.7" y="1528" text-anchor="middle">-10</text>
<text x="409.5" y="1528" text-anchor="middle">0</text>
<text x="572.3" y="1528" text-anchor="middle">10</text>
<text x="735.1" y="1528" text-anchor="middle">20</text>
<text x="897.9" y="1528" text-anchor="middle">30</text>
<text x="1060.7" y="1528" text-anchor="middle">40</text>
<text x="1223.5" y="1528" text-anchor="middle">50</text>
<text x="1386.3" y="1528" text-anchor="middle">60</text>
<text x="1549.1" y="1528" text-anchor="middle">70</text>
<text x="1711.9" y="1528" text-anchor="middle">80</text>
<text x="1874.7" y="1528" text-anchor="middle">90</text>
<text x="2037.5" y="1528" text-anchor="middle">100</text>
</g>
<g fill="#000">
<text class="lb" transform="translate(264.4 517) scale(0.983 1)">10MPa-J55</text>
<text class="lb" transform="translate(267.3 635.4) scale(0.983 1)">7MPa-J55</text>
<text class="lb" transform="translate(264.4 753.6) scale(0.983 1)">5MPa-J55</text>
<text class="lb" transform="translate(264.4 874.4) scale(0.983 1)">3MPa-J55</text>
<text class="lb" transform="translate(256.3 1047.4) scale(0.983 1)">10MPa-N80</text>
<text class="lb" transform="translate(260.2 1163) scale(0.983 1)">7MPa-N80</text>
<text class="lb" transform="translate(255.1 1280) scale(0.983 1)">5MPa-N80</text>
<text class="lb" transform="translate(257 1401) scale(0.983 1)">3MPa-N80</text>
<text class="lg" transform="translate(379.3 211) scale(0.983 1)">Fe<tspan class="sb" dy="23">3</tspan><tspan dy="-23">C</tspan></text>
<text class="lg" transform="translate(375.9 307.6) scale(0.983 1)">FeCO<tspan class="sb" dy="23">3</tspan></text>
<text class="lg" transform="translate(1348.4 186) scale(0.983 1)">00-035-0772 Fe<tspan class="sb" dy="23">3</tspan><tspan dy="-23">C</tspan></text>
<text class="lg" transform="translate(1353 266.3) scale(0.983 1)">00-029-0696 FeCO<tspan class="sb" dy="23">3</tspan></text>
<text class="ti" y="1643" text-anchor="middle" x="1083 1142.5 1189 1225 1262 1318.5 1378.5">2θ, deg</text>
<text class="ti" transform="rotate(-90)" y="175.6" text-anchor="middle" x="-1233.8 -1176 -1117 -1057.3 -1000 -941 -883 -825.5 -769.3 -721 -654 -595.3 -536.9 -477.9">Intensity, CPS</text>
</g>
</svg>
</body></html>
